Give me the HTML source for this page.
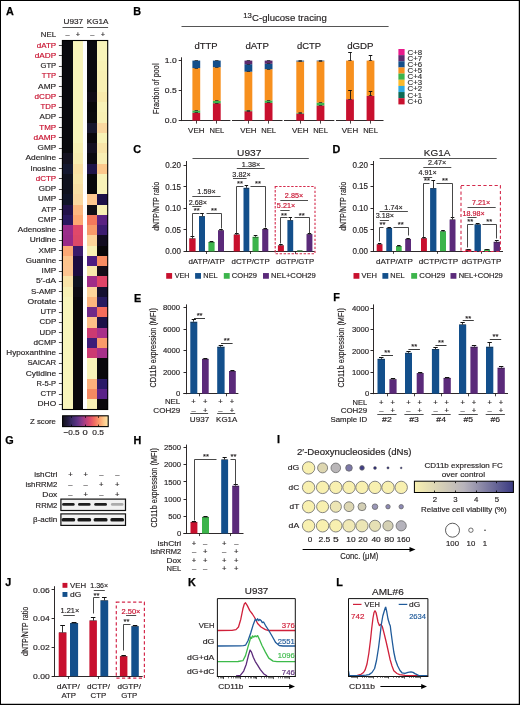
<!DOCTYPE html>
<html><head><meta charset="utf-8"><title>Figure</title>
<style>html,body{margin:0;padding:0;background:#fff;overflow:hidden;}svg{display:block;will-change:transform;}
text{font-family:"Liberation Sans",sans-serif;}</style></head>
<body><svg width="520" height="705" viewBox="0 0 520 705">
<rect x="0" y="0" width="520" height="705" fill="#fff"/>
<defs><linearGradient id="magma" x1="0" x2="1" y1="0" y2="0">
<stop offset="0" stop-color="#14121c"/><stop offset="0.1" stop-color="#221c3c"/><stop offset="0.2" stop-color="#3a2a66"/>
<stop offset="0.32" stop-color="#5e3284"/><stop offset="0.42" stop-color="#8a3a8a"/><stop offset="0.5" stop-color="#b23e7e"/>
<stop offset="0.6" stop-color="#dc4c6e"/><stop offset="0.7" stop-color="#f26e62"/><stop offset="0.8" stop-color="#fb9a6c"/>
<stop offset="0.9" stop-color="#fdc68a"/><stop offset="1" stop-color="#fde9aa"/></linearGradient>
<linearGradient id="bluey" x1="0" x2="1" y1="0" y2="0"><stop offset="0" stop-color="#f8f0b0"/><stop offset="0.5" stop-color="#b8b4bc"/><stop offset="1" stop-color="#3a3a82"/></linearGradient>
<filter id="blur1" x="-20%" y="-50%" width="140%" height="200%"><feGaussianBlur stdDeviation="0.55"/></filter>
</defs>
<text x="5.90" y="14.60" font-size="10.8" text-anchor="start" fill="#000" font-weight="bold" stroke="#000" stroke-width="0.25" >A</text>
<text x="133.20" y="15.00" font-size="10.8" text-anchor="start" fill="#000" font-weight="bold" stroke="#000" stroke-width="0.25" >B</text>
<text x="133.20" y="152.70" font-size="10.8" text-anchor="start" fill="#000" font-weight="bold" stroke="#000" stroke-width="0.25" >C</text>
<text x="332.40" y="153.00" font-size="10.8" text-anchor="start" fill="#000" font-weight="bold" stroke="#000" stroke-width="0.25" >D</text>
<text x="134.10" y="301.60" font-size="10.8" text-anchor="start" fill="#000" font-weight="bold" stroke="#000" stroke-width="0.25" >E</text>
<text x="333.20" y="301.00" font-size="10.8" text-anchor="start" fill="#000" font-weight="bold" stroke="#000" stroke-width="0.25" >F</text>
<text x="5.30" y="444.00" font-size="10.8" text-anchor="start" fill="#000" font-weight="bold" stroke="#000" stroke-width="0.25" >G</text>
<text x="133.60" y="443.90" font-size="10.8" text-anchor="start" fill="#000" font-weight="bold" stroke="#000" stroke-width="0.25" >H</text>
<text x="277.00" y="442.60" font-size="10.8" text-anchor="start" fill="#000" font-weight="bold" stroke="#000" stroke-width="0.25" >I</text>
<text x="5.30" y="585.60" font-size="10.8" text-anchor="start" fill="#000" font-weight="bold" stroke="#000" stroke-width="0.25" >J</text>
<text x="187.90" y="586.00" font-size="10.8" text-anchor="start" fill="#000" font-weight="bold" stroke="#000" stroke-width="0.25" >K</text>
<text x="336.20" y="586.00" font-size="10.8" text-anchor="start" fill="#000" font-weight="bold" stroke="#000" stroke-width="0.25" >L</text>
<rect x="62.40" y="40.50" width="10.20" height="10.25" fill="#0a0a0e" shape-rendering="crispEdges"/>
<rect x="72.60" y="40.50" width="10.60" height="10.25" fill="#f8f4ba" shape-rendering="crispEdges"/>
<rect x="87.20" y="40.50" width="10.20" height="10.25" fill="#0a0a0e" shape-rendering="crispEdges"/>
<rect x="97.40" y="40.50" width="10.40" height="10.25" fill="#f8f4ba" shape-rendering="crispEdges"/>
<text x="36.74" y="47.73" font-size="7.6" text-anchor="start" fill="#c8102e" font-weight="normal" stroke="#c8102e" stroke-width="0.16"  textLength="19.41" lengthAdjust="spacingAndGlyphs">dATP</text>
<line x1="58.90" y1="45.50" x2="62.00" y2="45.50" stroke="#231f20" stroke-width="0.8" />
<rect x="62.40" y="50.75" width="10.20" height="10.25" fill="#0a0a0e" shape-rendering="crispEdges"/>
<rect x="72.60" y="50.75" width="10.60" height="10.25" fill="#f8f4ba" shape-rendering="crispEdges"/>
<rect x="87.20" y="50.75" width="10.20" height="10.25" fill="#0a0a0e" shape-rendering="crispEdges"/>
<rect x="97.40" y="50.75" width="10.40" height="10.25" fill="#f8f4ba" shape-rendering="crispEdges"/>
<text x="34.74" y="57.98" font-size="7.6" text-anchor="start" fill="#c8102e" font-weight="normal" stroke="#c8102e" stroke-width="0.16"  textLength="21.41" lengthAdjust="spacingAndGlyphs">dADP</text>
<line x1="58.90" y1="55.50" x2="62.00" y2="55.50" stroke="#231f20" stroke-width="0.8" />
<rect x="62.40" y="61.00" width="10.20" height="10.25" fill="#0a0a0e" shape-rendering="crispEdges"/>
<rect x="72.60" y="61.00" width="10.60" height="10.25" fill="#f8f4ba" shape-rendering="crispEdges"/>
<rect x="87.20" y="61.00" width="10.20" height="10.25" fill="#0a0a0e" shape-rendering="crispEdges"/>
<rect x="97.40" y="61.00" width="10.40" height="10.25" fill="#f8f2b6" shape-rendering="crispEdges"/>
<text x="40.44" y="68.22" font-size="7.6" text-anchor="start" fill="#231f20" font-weight="normal" stroke="#231f20" stroke-width="0.16"  textLength="15.71" lengthAdjust="spacingAndGlyphs">GTP</text>
<line x1="58.90" y1="66.50" x2="62.00" y2="66.50" stroke="#231f20" stroke-width="0.8" />
<rect x="62.40" y="71.25" width="10.20" height="10.25" fill="#0a0a0e" shape-rendering="crispEdges"/>
<rect x="72.60" y="71.25" width="10.60" height="10.25" fill="#f8f4ba" shape-rendering="crispEdges"/>
<rect x="87.20" y="71.25" width="10.20" height="10.25" fill="#0a0a0e" shape-rendering="crispEdges"/>
<rect x="97.40" y="71.25" width="10.40" height="10.25" fill="#f8f0b4" shape-rendering="crispEdges"/>
<text x="41.84" y="78.47" font-size="7.6" text-anchor="start" fill="#c8102e" font-weight="normal" stroke="#c8102e" stroke-width="0.16"  textLength="14.31" lengthAdjust="spacingAndGlyphs">TTP</text>
<line x1="58.90" y1="76.50" x2="62.00" y2="76.50" stroke="#231f20" stroke-width="0.8" />
<rect x="62.40" y="81.50" width="10.20" height="10.25" fill="#0a0a0e" shape-rendering="crispEdges"/>
<rect x="72.60" y="81.50" width="10.60" height="10.25" fill="#f8f4ba" shape-rendering="crispEdges"/>
<rect x="87.20" y="81.50" width="10.20" height="10.25" fill="#0a0a0e" shape-rendering="crispEdges"/>
<rect x="97.40" y="81.50" width="10.40" height="10.25" fill="#f8f0b4" shape-rendering="crispEdges"/>
<text x="38.14" y="88.72" font-size="7.6" text-anchor="start" fill="#231f20" font-weight="normal" stroke="#231f20" stroke-width="0.16"  textLength="18.01" lengthAdjust="spacingAndGlyphs">AMP</text>
<line x1="58.90" y1="86.50" x2="62.00" y2="86.50" stroke="#231f20" stroke-width="0.8" />
<rect x="62.40" y="91.75" width="10.20" height="10.25" fill="#0a0a0e" shape-rendering="crispEdges"/>
<rect x="72.60" y="91.75" width="10.60" height="10.25" fill="#f8f4ba" shape-rendering="crispEdges"/>
<rect x="87.20" y="91.75" width="10.20" height="10.25" fill="#100c16" shape-rendering="crispEdges"/>
<rect x="97.40" y="91.75" width="10.40" height="10.25" fill="#f8eaac" shape-rendering="crispEdges"/>
<text x="34.54" y="98.97" font-size="7.6" text-anchor="start" fill="#c8102e" font-weight="normal" stroke="#c8102e" stroke-width="0.16"  textLength="21.61" lengthAdjust="spacingAndGlyphs">dCDP</text>
<line x1="58.90" y1="96.50" x2="62.00" y2="96.50" stroke="#231f20" stroke-width="0.8" />
<rect x="62.40" y="102.00" width="10.20" height="10.25" fill="#0a0a0e" shape-rendering="crispEdges"/>
<rect x="72.60" y="102.00" width="10.60" height="10.25" fill="#f8f4ba" shape-rendering="crispEdges"/>
<rect x="87.20" y="102.00" width="10.20" height="10.25" fill="#08080a" shape-rendering="crispEdges"/>
<rect x="97.40" y="102.00" width="10.40" height="10.25" fill="#f8f2b8" shape-rendering="crispEdges"/>
<text x="40.64" y="109.22" font-size="7.6" text-anchor="start" fill="#c8102e" font-weight="normal" stroke="#c8102e" stroke-width="0.16"  textLength="15.51" lengthAdjust="spacingAndGlyphs">TDP</text>
<line x1="58.90" y1="107.50" x2="62.00" y2="107.50" stroke="#231f20" stroke-width="0.8" />
<rect x="62.40" y="112.25" width="10.20" height="10.25" fill="#0a0a0e" shape-rendering="crispEdges"/>
<rect x="72.60" y="112.25" width="10.60" height="10.25" fill="#f8f4ba" shape-rendering="crispEdges"/>
<rect x="87.20" y="112.25" width="10.20" height="10.25" fill="#0a0a0c" shape-rendering="crispEdges"/>
<rect x="97.40" y="112.25" width="10.40" height="10.25" fill="#f8f0b4" shape-rendering="crispEdges"/>
<text x="39.64" y="119.47" font-size="7.6" text-anchor="start" fill="#231f20" font-weight="normal" stroke="#231f20" stroke-width="0.16"  textLength="16.51" lengthAdjust="spacingAndGlyphs">ADP</text>
<line x1="58.90" y1="117.50" x2="62.00" y2="117.50" stroke="#231f20" stroke-width="0.8" />
<rect x="62.40" y="122.50" width="10.20" height="10.25" fill="#0a0a0e" shape-rendering="crispEdges"/>
<rect x="72.60" y="122.50" width="10.60" height="10.25" fill="#f8f4ba" shape-rendering="crispEdges"/>
<rect x="87.20" y="122.50" width="10.20" height="10.25" fill="#17172c" shape-rendering="crispEdges"/>
<rect x="97.40" y="122.50" width="10.40" height="10.25" fill="#fad8a0" shape-rendering="crispEdges"/>
<text x="39.24" y="129.72" font-size="7.6" text-anchor="start" fill="#c8102e" font-weight="normal" stroke="#c8102e" stroke-width="0.16"  textLength="16.91" lengthAdjust="spacingAndGlyphs">TMP</text>
<line x1="58.90" y1="127.50" x2="62.00" y2="127.50" stroke="#231f20" stroke-width="0.8" />
<rect x="62.40" y="132.75" width="10.20" height="10.25" fill="#0a0a0e" shape-rendering="crispEdges"/>
<rect x="72.60" y="132.75" width="10.60" height="10.25" fill="#f8f4ba" shape-rendering="crispEdges"/>
<rect x="87.20" y="132.75" width="10.20" height="10.25" fill="#0a080c" shape-rendering="crispEdges"/>
<rect x="97.40" y="132.75" width="10.40" height="10.25" fill="#f8f2b6" shape-rendering="crispEdges"/>
<text x="33.54" y="139.97" font-size="7.6" text-anchor="start" fill="#c8102e" font-weight="normal" stroke="#c8102e" stroke-width="0.16"  textLength="22.61" lengthAdjust="spacingAndGlyphs">dAMP</text>
<line x1="58.90" y1="137.50" x2="62.00" y2="137.50" stroke="#231f20" stroke-width="0.8" />
<rect x="62.40" y="143.00" width="10.20" height="10.25" fill="#0a0a0e" shape-rendering="crispEdges"/>
<rect x="72.60" y="143.00" width="10.60" height="10.25" fill="#f8f0b4" shape-rendering="crispEdges"/>
<rect x="87.20" y="143.00" width="10.20" height="10.25" fill="#141020" shape-rendering="crispEdges"/>
<rect x="97.40" y="143.00" width="10.40" height="10.25" fill="#f8e4a8" shape-rendering="crispEdges"/>
<text x="37.54" y="150.22" font-size="7.6" text-anchor="start" fill="#231f20" font-weight="normal" stroke="#231f20" stroke-width="0.16"  textLength="18.61" lengthAdjust="spacingAndGlyphs">GMP</text>
<line x1="58.90" y1="148.50" x2="62.00" y2="148.50" stroke="#231f20" stroke-width="0.8" />
<rect x="62.40" y="153.25" width="10.20" height="10.25" fill="#141220" shape-rendering="crispEdges"/>
<rect x="72.60" y="153.25" width="10.60" height="10.25" fill="#f8ecb0" shape-rendering="crispEdges"/>
<rect x="87.20" y="153.25" width="10.20" height="10.25" fill="#0c0a10" shape-rendering="crispEdges"/>
<rect x="97.40" y="153.25" width="10.40" height="10.25" fill="#f8eeb4" shape-rendering="crispEdges"/>
<text x="25.54" y="160.47" font-size="7.6" text-anchor="start" fill="#231f20" font-weight="normal" stroke="#231f20" stroke-width="0.16"  textLength="30.61" lengthAdjust="spacingAndGlyphs">Adenine</text>
<line x1="58.90" y1="158.50" x2="62.00" y2="158.50" stroke="#231f20" stroke-width="0.8" />
<rect x="62.40" y="163.50" width="10.20" height="10.25" fill="#141830" shape-rendering="crispEdges"/>
<rect x="72.60" y="163.50" width="10.60" height="10.25" fill="#fae0a4" shape-rendering="crispEdges"/>
<rect x="87.20" y="163.50" width="10.20" height="10.25" fill="#1e1448" shape-rendering="crispEdges"/>
<rect x="97.40" y="163.50" width="10.40" height="10.25" fill="#fcc88c" shape-rendering="crispEdges"/>
<text x="30.44" y="170.72" font-size="7.6" text-anchor="start" fill="#231f20" font-weight="normal" stroke="#231f20" stroke-width="0.16"  textLength="25.71" lengthAdjust="spacingAndGlyphs">Inosine</text>
<line x1="58.90" y1="168.50" x2="62.00" y2="168.50" stroke="#231f20" stroke-width="0.8" />
<rect x="62.40" y="173.75" width="10.20" height="10.25" fill="#10121e" shape-rendering="crispEdges"/>
<rect x="72.60" y="173.75" width="10.60" height="10.25" fill="#f8e4a8" shape-rendering="crispEdges"/>
<rect x="87.20" y="173.75" width="10.20" height="10.25" fill="#08080a" shape-rendering="crispEdges"/>
<rect x="97.40" y="173.75" width="10.40" height="10.25" fill="#f8f2b8" shape-rendering="crispEdges"/>
<text x="35.74" y="180.97" font-size="7.6" text-anchor="start" fill="#c8102e" font-weight="normal" stroke="#c8102e" stroke-width="0.16"  textLength="20.41" lengthAdjust="spacingAndGlyphs">dCTP</text>
<line x1="58.90" y1="178.50" x2="62.00" y2="178.50" stroke="#231f20" stroke-width="0.8" />
<rect x="62.40" y="184.00" width="10.20" height="10.25" fill="#10121e" shape-rendering="crispEdges"/>
<rect x="72.60" y="184.00" width="10.60" height="10.25" fill="#f8dea4" shape-rendering="crispEdges"/>
<rect x="87.20" y="184.00" width="10.20" height="10.25" fill="#08080a" shape-rendering="crispEdges"/>
<rect x="97.40" y="184.00" width="10.40" height="10.25" fill="#f8f2b8" shape-rendering="crispEdges"/>
<text x="38.84" y="191.22" font-size="7.6" text-anchor="start" fill="#231f20" font-weight="normal" stroke="#231f20" stroke-width="0.16"  textLength="17.31" lengthAdjust="spacingAndGlyphs">GDP</text>
<line x1="58.90" y1="189.50" x2="62.00" y2="189.50" stroke="#231f20" stroke-width="0.8" />
<rect x="62.40" y="194.25" width="10.20" height="10.25" fill="#101428" shape-rendering="crispEdges"/>
<rect x="72.60" y="194.25" width="10.60" height="10.25" fill="#fad8a0" shape-rendering="crispEdges"/>
<rect x="87.20" y="194.25" width="10.20" height="10.25" fill="#fdc890" shape-rendering="crispEdges"/>
<rect x="97.40" y="194.25" width="10.40" height="10.25" fill="#1c1048" shape-rendering="crispEdges"/>
<text x="38.14" y="201.47" font-size="7.6" text-anchor="start" fill="#231f20" font-weight="normal" stroke="#231f20" stroke-width="0.16"  textLength="18.01" lengthAdjust="spacingAndGlyphs">UMP</text>
<line x1="58.90" y1="199.50" x2="62.00" y2="199.50" stroke="#231f20" stroke-width="0.8" />
<rect x="62.40" y="204.50" width="10.20" height="10.25" fill="#22124a" shape-rendering="crispEdges"/>
<rect x="72.60" y="204.50" width="10.60" height="10.25" fill="#fcb880" shape-rendering="crispEdges"/>
<rect x="87.20" y="204.50" width="10.20" height="10.25" fill="#121016" shape-rendering="crispEdges"/>
<rect x="97.40" y="204.50" width="10.40" height="10.25" fill="#f8f0b4" shape-rendering="crispEdges"/>
<text x="41.64" y="211.72" font-size="7.6" text-anchor="start" fill="#231f20" font-weight="normal" stroke="#231f20" stroke-width="0.16"  textLength="14.51" lengthAdjust="spacingAndGlyphs">ATP</text>
<line x1="58.90" y1="209.50" x2="62.00" y2="209.50" stroke="#231f20" stroke-width="0.8" />
<rect x="62.40" y="214.75" width="10.20" height="10.25" fill="#2a1860" shape-rendering="crispEdges"/>
<rect x="72.60" y="214.75" width="10.60" height="10.25" fill="#fda872" shape-rendering="crispEdges"/>
<rect x="87.20" y="214.75" width="10.20" height="10.25" fill="#f4785c" shape-rendering="crispEdges"/>
<rect x="97.40" y="214.75" width="10.40" height="10.25" fill="#5a2282" shape-rendering="crispEdges"/>
<text x="37.84" y="221.97" font-size="7.6" text-anchor="start" fill="#231f20" font-weight="normal" stroke="#231f20" stroke-width="0.16"  textLength="18.31" lengthAdjust="spacingAndGlyphs">CMP</text>
<line x1="58.90" y1="219.50" x2="62.00" y2="219.50" stroke="#231f20" stroke-width="0.8" />
<rect x="62.40" y="225.00" width="10.20" height="10.25" fill="#9a2c8a" shape-rendering="crispEdges"/>
<rect x="72.60" y="225.00" width="10.60" height="10.25" fill="#e0486a" shape-rendering="crispEdges"/>
<rect x="87.20" y="225.00" width="10.20" height="10.25" fill="#f89a6a" shape-rendering="crispEdges"/>
<rect x="97.40" y="225.00" width="10.40" height="10.25" fill="#3c1c70" shape-rendering="crispEdges"/>
<text x="17.74" y="232.22" font-size="7.6" text-anchor="start" fill="#231f20" font-weight="normal" stroke="#231f20" stroke-width="0.16"  textLength="38.41" lengthAdjust="spacingAndGlyphs">Adenosine</text>
<line x1="58.90" y1="230.50" x2="62.00" y2="230.50" stroke="#231f20" stroke-width="0.8" />
<rect x="62.40" y="235.25" width="10.20" height="10.25" fill="#982a88" shape-rendering="crispEdges"/>
<rect x="72.60" y="235.25" width="10.60" height="10.25" fill="#dc4868" shape-rendering="crispEdges"/>
<rect x="87.20" y="235.25" width="10.20" height="10.25" fill="#fdd49a" shape-rendering="crispEdges"/>
<rect x="97.40" y="235.25" width="10.40" height="10.25" fill="#120c20" shape-rendering="crispEdges"/>
<text x="29.74" y="242.47" font-size="7.6" text-anchor="start" fill="#231f20" font-weight="normal" stroke="#231f20" stroke-width="0.16"  textLength="26.41" lengthAdjust="spacingAndGlyphs">Uridine</text>
<line x1="58.90" y1="240.50" x2="62.00" y2="240.50" stroke="#231f20" stroke-width="0.8" />
<rect x="62.40" y="245.50" width="10.20" height="10.25" fill="#fca874" shape-rendering="crispEdges"/>
<rect x="72.60" y="245.50" width="10.60" height="10.25" fill="#3a1a6a" shape-rendering="crispEdges"/>
<rect x="87.20" y="245.50" width="10.20" height="10.25" fill="#f8f0b4" shape-rendering="crispEdges"/>
<rect x="97.40" y="245.50" width="10.40" height="10.25" fill="#080608" shape-rendering="crispEdges"/>
<text x="38.54" y="252.72" font-size="7.6" text-anchor="start" fill="#231f20" font-weight="normal" stroke="#231f20" stroke-width="0.16"  textLength="17.61" lengthAdjust="spacingAndGlyphs">XMP</text>
<line x1="58.90" y1="250.50" x2="62.00" y2="250.50" stroke="#231f20" stroke-width="0.8" />
<rect x="62.40" y="255.75" width="10.20" height="10.25" fill="#fdc48c" shape-rendering="crispEdges"/>
<rect x="72.60" y="255.75" width="10.60" height="10.25" fill="#1c0c40" shape-rendering="crispEdges"/>
<rect x="87.20" y="255.75" width="10.20" height="10.25" fill="#4c1c80" shape-rendering="crispEdges"/>
<rect x="97.40" y="255.75" width="10.40" height="10.25" fill="#f88c62" shape-rendering="crispEdges"/>
<text x="25.74" y="262.98" font-size="7.6" text-anchor="start" fill="#231f20" font-weight="normal" stroke="#231f20" stroke-width="0.16"  textLength="30.41" lengthAdjust="spacingAndGlyphs">Guanine</text>
<line x1="58.90" y1="260.50" x2="62.00" y2="260.50" stroke="#231f20" stroke-width="0.8" />
<rect x="62.40" y="266.00" width="10.20" height="10.25" fill="#fdc490" shape-rendering="crispEdges"/>
<rect x="72.60" y="266.00" width="10.60" height="10.25" fill="#1c0c40" shape-rendering="crispEdges"/>
<rect x="87.20" y="266.00" width="10.20" height="10.25" fill="#f8e8ac" shape-rendering="crispEdges"/>
<rect x="97.40" y="266.00" width="10.40" height="10.25" fill="#140c18" shape-rendering="crispEdges"/>
<text x="41.64" y="273.23" font-size="7.6" text-anchor="start" fill="#231f20" font-weight="normal" stroke="#231f20" stroke-width="0.16"  textLength="14.51" lengthAdjust="spacingAndGlyphs">IMP</text>
<line x1="58.90" y1="271.50" x2="62.00" y2="271.50" stroke="#231f20" stroke-width="0.8" />
<rect x="62.40" y="276.25" width="10.20" height="10.25" fill="#fae4a8" shape-rendering="crispEdges"/>
<rect x="72.60" y="276.25" width="10.60" height="10.25" fill="#101420" shape-rendering="crispEdges"/>
<rect x="87.20" y="276.25" width="10.20" height="10.25" fill="#a02c88" shape-rendering="crispEdges"/>
<rect x="97.40" y="276.25" width="10.40" height="10.25" fill="#e04468" shape-rendering="crispEdges"/>
<text x="36.14" y="283.48" font-size="7.6" text-anchor="start" fill="#231f20" font-weight="normal" stroke="#231f20" stroke-width="0.16"  textLength="20.01" lengthAdjust="spacingAndGlyphs">5&#8242;-dA</text>
<line x1="58.90" y1="281.50" x2="62.00" y2="281.50" stroke="#231f20" stroke-width="0.8" />
<rect x="62.40" y="286.50" width="10.20" height="10.25" fill="#f8f0b4" shape-rendering="crispEdges"/>
<rect x="72.60" y="286.50" width="10.60" height="10.25" fill="#0e0c14" shape-rendering="crispEdges"/>
<rect x="87.20" y="286.50" width="10.20" height="10.25" fill="#fdd49c" shape-rendering="crispEdges"/>
<rect x="97.40" y="286.50" width="10.40" height="10.25" fill="#141030" shape-rendering="crispEdges"/>
<text x="31.04" y="293.73" font-size="7.6" text-anchor="start" fill="#231f20" font-weight="normal" stroke="#231f20" stroke-width="0.16"  textLength="25.11" lengthAdjust="spacingAndGlyphs">S-AMP</text>
<line x1="58.90" y1="291.50" x2="62.00" y2="291.50" stroke="#231f20" stroke-width="0.8" />
<rect x="62.40" y="296.75" width="10.20" height="10.25" fill="#f8f4ba" shape-rendering="crispEdges"/>
<rect x="72.60" y="296.75" width="10.60" height="10.25" fill="#0a080c" shape-rendering="crispEdges"/>
<rect x="87.20" y="296.75" width="10.20" height="10.25" fill="#fcb47e" shape-rendering="crispEdges"/>
<rect x="97.40" y="296.75" width="10.40" height="10.25" fill="#261a60" shape-rendering="crispEdges"/>
<text x="27.64" y="303.98" font-size="7.6" text-anchor="start" fill="#231f20" font-weight="normal" stroke="#231f20" stroke-width="0.16"  textLength="28.51" lengthAdjust="spacingAndGlyphs">Orotate</text>
<line x1="58.90" y1="301.50" x2="62.00" y2="301.50" stroke="#231f20" stroke-width="0.8" />
<rect x="62.40" y="307.00" width="10.20" height="10.25" fill="#f8f4ba" shape-rendering="crispEdges"/>
<rect x="72.60" y="307.00" width="10.60" height="10.25" fill="#0a080c" shape-rendering="crispEdges"/>
<rect x="87.20" y="307.00" width="10.20" height="10.25" fill="#702888" shape-rendering="crispEdges"/>
<rect x="97.40" y="307.00" width="10.40" height="10.25" fill="#f46c5c" shape-rendering="crispEdges"/>
<text x="40.64" y="314.23" font-size="7.6" text-anchor="start" fill="#231f20" font-weight="normal" stroke="#231f20" stroke-width="0.16"  textLength="15.51" lengthAdjust="spacingAndGlyphs">UTP</text>
<line x1="58.90" y1="312.50" x2="62.00" y2="312.50" stroke="#231f20" stroke-width="0.8" />
<rect x="62.40" y="317.25" width="10.20" height="10.25" fill="#f8f4ba" shape-rendering="crispEdges"/>
<rect x="72.60" y="317.25" width="10.60" height="10.25" fill="#0a080c" shape-rendering="crispEdges"/>
<rect x="87.20" y="317.25" width="10.20" height="10.25" fill="#fdc088" shape-rendering="crispEdges"/>
<rect x="97.40" y="317.25" width="10.40" height="10.25" fill="#1c1048" shape-rendering="crispEdges"/>
<text x="39.54" y="324.48" font-size="7.6" text-anchor="start" fill="#231f20" font-weight="normal" stroke="#231f20" stroke-width="0.16"  textLength="16.61" lengthAdjust="spacingAndGlyphs">CDP</text>
<line x1="58.90" y1="322.50" x2="62.00" y2="322.50" stroke="#231f20" stroke-width="0.8" />
<rect x="62.40" y="327.50" width="10.20" height="10.25" fill="#f8f4ba" shape-rendering="crispEdges"/>
<rect x="72.60" y="327.50" width="10.60" height="10.25" fill="#0a080c" shape-rendering="crispEdges"/>
<rect x="87.20" y="327.50" width="10.20" height="10.25" fill="#cc3a72" shape-rendering="crispEdges"/>
<rect x="97.40" y="327.50" width="10.40" height="10.25" fill="#a8308a" shape-rendering="crispEdges"/>
<text x="39.54" y="334.73" font-size="7.6" text-anchor="start" fill="#231f20" font-weight="normal" stroke="#231f20" stroke-width="0.16"  textLength="16.61" lengthAdjust="spacingAndGlyphs">UDP</text>
<line x1="58.90" y1="332.50" x2="62.00" y2="332.50" stroke="#231f20" stroke-width="0.8" />
<rect x="62.40" y="337.75" width="10.20" height="10.25" fill="#f8f4ba" shape-rendering="crispEdges"/>
<rect x="72.60" y="337.75" width="10.60" height="10.25" fill="#0a080c" shape-rendering="crispEdges"/>
<rect x="87.20" y="337.75" width="10.20" height="10.25" fill="#3c1c78" shape-rendering="crispEdges"/>
<rect x="97.40" y="337.75" width="10.40" height="10.25" fill="#fa9a6a" shape-rendering="crispEdges"/>
<text x="33.54" y="344.98" font-size="7.6" text-anchor="start" fill="#231f20" font-weight="normal" stroke="#231f20" stroke-width="0.16"  textLength="22.61" lengthAdjust="spacingAndGlyphs">dCMP</text>
<line x1="58.90" y1="342.50" x2="62.00" y2="342.50" stroke="#231f20" stroke-width="0.8" />
<rect x="62.40" y="348.00" width="10.20" height="10.25" fill="#f8f4ba" shape-rendering="crispEdges"/>
<rect x="72.60" y="348.00" width="10.60" height="10.25" fill="#0a080c" shape-rendering="crispEdges"/>
<rect x="87.20" y="348.00" width="10.20" height="10.25" fill="#cc3a72" shape-rendering="crispEdges"/>
<rect x="97.40" y="348.00" width="10.40" height="10.25" fill="#a8308a" shape-rendering="crispEdges"/>
<text x="6.34" y="355.23" font-size="7.6" text-anchor="start" fill="#231f20" font-weight="normal" stroke="#231f20" stroke-width="0.16"  textLength="49.81" lengthAdjust="spacingAndGlyphs">Hypoxanthine</text>
<line x1="58.90" y1="353.50" x2="62.00" y2="353.50" stroke="#231f20" stroke-width="0.8" />
<rect x="62.40" y="358.25" width="10.20" height="10.25" fill="#f8f4ba" shape-rendering="crispEdges"/>
<rect x="72.60" y="358.25" width="10.60" height="10.25" fill="#0a080c" shape-rendering="crispEdges"/>
<rect x="87.20" y="358.25" width="10.20" height="10.25" fill="#f8f2b8" shape-rendering="crispEdges"/>
<rect x="97.40" y="358.25" width="10.40" height="10.25" fill="#0a080c" shape-rendering="crispEdges"/>
<text x="27.44" y="365.48" font-size="7.6" text-anchor="start" fill="#231f20" font-weight="normal" stroke="#231f20" stroke-width="0.16"  textLength="28.71" lengthAdjust="spacingAndGlyphs">SAICAR</text>
<line x1="58.90" y1="363.50" x2="62.00" y2="363.50" stroke="#231f20" stroke-width="0.8" />
<rect x="62.40" y="368.50" width="10.20" height="10.25" fill="#f8f4ba" shape-rendering="crispEdges"/>
<rect x="72.60" y="368.50" width="10.60" height="10.25" fill="#0a080c" shape-rendering="crispEdges"/>
<rect x="87.20" y="368.50" width="10.20" height="10.25" fill="#f8f2b8" shape-rendering="crispEdges"/>
<rect x="97.40" y="368.50" width="10.40" height="10.25" fill="#0a080c" shape-rendering="crispEdges"/>
<text x="25.74" y="375.73" font-size="7.6" text-anchor="start" fill="#231f20" font-weight="normal" stroke="#231f20" stroke-width="0.16"  textLength="30.41" lengthAdjust="spacingAndGlyphs">Cytidine</text>
<line x1="58.90" y1="373.50" x2="62.00" y2="373.50" stroke="#231f20" stroke-width="0.8" />
<rect x="62.40" y="378.75" width="10.20" height="10.25" fill="#f8f4ba" shape-rendering="crispEdges"/>
<rect x="72.60" y="378.75" width="10.60" height="10.25" fill="#0a080c" shape-rendering="crispEdges"/>
<rect x="87.20" y="378.75" width="10.20" height="10.25" fill="#fbb07c" shape-rendering="crispEdges"/>
<rect x="97.40" y="378.75" width="10.40" height="10.25" fill="#2a1a68" shape-rendering="crispEdges"/>
<text x="36.44" y="385.98" font-size="7.6" text-anchor="start" fill="#231f20" font-weight="normal" stroke="#231f20" stroke-width="0.16"  textLength="19.71" lengthAdjust="spacingAndGlyphs">R-5-P</text>
<line x1="58.90" y1="383.50" x2="62.00" y2="383.50" stroke="#231f20" stroke-width="0.8" />
<rect x="62.40" y="389.00" width="10.20" height="10.25" fill="#f8f4ba" shape-rendering="crispEdges"/>
<rect x="72.60" y="389.00" width="10.60" height="10.25" fill="#0a080c" shape-rendering="crispEdges"/>
<rect x="87.20" y="389.00" width="10.20" height="10.25" fill="#f58a62" shape-rendering="crispEdges"/>
<rect x="97.40" y="389.00" width="10.40" height="10.25" fill="#5a2288" shape-rendering="crispEdges"/>
<text x="40.64" y="396.23" font-size="7.6" text-anchor="start" fill="#231f20" font-weight="normal" stroke="#231f20" stroke-width="0.16"  textLength="15.51" lengthAdjust="spacingAndGlyphs">CTP</text>
<line x1="58.90" y1="394.50" x2="62.00" y2="394.50" stroke="#231f20" stroke-width="0.8" />
<rect x="62.40" y="399.25" width="10.20" height="10.25" fill="#f8f4ba" shape-rendering="crispEdges"/>
<rect x="72.60" y="399.25" width="10.60" height="10.25" fill="#0a080c" shape-rendering="crispEdges"/>
<rect x="87.20" y="399.25" width="10.20" height="10.25" fill="#f8f0b4" shape-rendering="crispEdges"/>
<rect x="97.40" y="399.25" width="10.40" height="10.25" fill="#0a080c" shape-rendering="crispEdges"/>
<text x="37.54" y="406.48" font-size="7.6" text-anchor="start" fill="#231f20" font-weight="normal" stroke="#231f20" stroke-width="0.16"  textLength="18.61" lengthAdjust="spacingAndGlyphs">DHO</text>
<line x1="58.90" y1="404.50" x2="62.00" y2="404.50" stroke="#231f20" stroke-width="0.8" />
<rect x="62.4" y="40.5" width="45.3" height="369.0" fill="none" stroke="#000" stroke-width="1.1"/>
<text x="63.54" y="23.60" font-size="7.7" text-anchor="start" fill="#231f20" font-weight="normal" stroke="#231f20" stroke-width="0.16"  textLength="19.62" lengthAdjust="spacingAndGlyphs">U937</text>
<text x="86.84" y="23.60" font-size="7.7" text-anchor="start" fill="#231f20" font-weight="normal" stroke="#231f20" stroke-width="0.16"  textLength="21.72" lengthAdjust="spacingAndGlyphs">KG1A</text>
<line x1="62.50" y1="27.50" x2="83.30" y2="27.50" stroke="#555" stroke-width="1.0" />
<line x1="87.10" y1="27.50" x2="108.10" y2="27.50" stroke="#555" stroke-width="1.0" />
<text x="40.86" y="37.40" font-size="7.4" text-anchor="start" fill="#231f20" font-weight="normal" stroke="#231f20" stroke-width="0.16"  textLength="15.19" lengthAdjust="spacingAndGlyphs">NEL</text>
<text x="67.50" y="37.40" font-size="7.4" text-anchor="middle" fill="#231f20" font-weight="normal" stroke="#231f20" stroke-width="0.16"  textLength="4.12" lengthAdjust="spacingAndGlyphs">&#8211;</text>
<text x="77.90" y="37.40" font-size="7.4" text-anchor="middle" fill="#231f20" font-weight="normal" stroke="#231f20" stroke-width="0.16"  textLength="4.32" lengthAdjust="spacingAndGlyphs">+</text>
<text x="92.40" y="37.40" font-size="7.4" text-anchor="middle" fill="#231f20" font-weight="normal" stroke="#231f20" stroke-width="0.16"  textLength="4.12" lengthAdjust="spacingAndGlyphs">&#8211;</text>
<text x="102.80" y="37.40" font-size="7.4" text-anchor="middle" fill="#231f20" font-weight="normal" stroke="#231f20" stroke-width="0.16"  textLength="4.32" lengthAdjust="spacingAndGlyphs">+</text>
<rect x="62.6" y="415.8" width="45.6" height="10.8" fill="url(#magma)" stroke="#000" stroke-width="1.1"/>
<line x1="71.50" y1="416.30" x2="71.50" y2="417.80" stroke="#000" stroke-width="0.8" />
<line x1="71.50" y1="424.60" x2="71.50" y2="426.10" stroke="#000" stroke-width="0.8" />
<line x1="85.50" y1="416.30" x2="85.50" y2="417.80" stroke="#000" stroke-width="0.8" />
<line x1="85.50" y1="424.60" x2="85.50" y2="426.10" stroke="#000" stroke-width="0.8" />
<line x1="98.50" y1="416.30" x2="98.50" y2="417.80" stroke="#000" stroke-width="0.8" />
<line x1="98.50" y1="424.60" x2="98.50" y2="426.10" stroke="#000" stroke-width="0.8" />
<text x="63.53" y="435.20" font-size="7.8" text-anchor="start" fill="#231f20" font-weight="normal" stroke="#231f20" stroke-width="0.16"  textLength="16.14" lengthAdjust="spacingAndGlyphs">&#8722;0.5</text>
<text x="82.53" y="435.20" font-size="7.8" text-anchor="start" fill="#231f20" font-weight="normal" stroke="#231f20" stroke-width="0.16"  textLength="5.24" lengthAdjust="spacingAndGlyphs">0</text>
<text x="92.33" y="435.20" font-size="7.8" text-anchor="start" fill="#231f20" font-weight="normal" stroke="#231f20" stroke-width="0.16"  textLength="11.64" lengthAdjust="spacingAndGlyphs">0.5</text>
<text x="30.06" y="423.80" font-size="7.3" text-anchor="start" fill="#231f20" font-weight="normal" stroke="#231f20" stroke-width="0.16"  textLength="25.88" lengthAdjust="spacingAndGlyphs">Z score</text>
<text x="243.30" y="18.00" font-size="6.6" text-anchor="start" fill="#231f20" font-weight="normal" stroke="#231f20" stroke-width="0.16"  textLength="8.60" lengthAdjust="spacingAndGlyphs">13</text>
<text x="252.04" y="21.30" font-size="9.4" text-anchor="start" fill="#231f20" font-weight="normal" stroke="#231f20" stroke-width="0.16"  textLength="74.73" lengthAdjust="spacingAndGlyphs">C-glucose tracing</text>
<line x1="181.50" y1="26.50" x2="388.60" y2="26.50" stroke="#555" stroke-width="1.0" />
<text x="194.46" y="49.00" font-size="9.0" text-anchor="start" fill="#231f20" font-weight="normal" stroke="#231f20" stroke-width="0.16"  textLength="23.08" lengthAdjust="spacingAndGlyphs">dTTP</text>
<text x="245.46" y="49.00" font-size="9.0" text-anchor="start" fill="#231f20" font-weight="normal" stroke="#231f20" stroke-width="0.16"  textLength="23.38" lengthAdjust="spacingAndGlyphs">dATP</text>
<text x="296.96" y="49.00" font-size="9.0" text-anchor="start" fill="#231f20" font-weight="normal" stroke="#231f20" stroke-width="0.16"  textLength="24.18" lengthAdjust="spacingAndGlyphs">dCTP</text>
<text x="347.16" y="49.00" font-size="9.0" text-anchor="start" fill="#231f20" font-weight="normal" stroke="#231f20" stroke-width="0.16"  textLength="26.38" lengthAdjust="spacingAndGlyphs">dGDP</text>
<line x1="181.50" y1="57.30" x2="181.50" y2="121.05" stroke="#231f20" stroke-width="0.95" />
<line x1="178.70" y1="60.50" x2="181.70" y2="60.50" stroke="#231f20" stroke-width="0.95" />
<text x="164.75" y="63.20" font-size="7.5" text-anchor="start" fill="#231f20" font-weight="normal" stroke="#231f20" stroke-width="0.16"  textLength="11.90" lengthAdjust="spacingAndGlyphs">1.0</text>
<line x1="178.70" y1="90.50" x2="181.70" y2="90.50" stroke="#231f20" stroke-width="0.95" />
<text x="164.75" y="93.20" font-size="7.5" text-anchor="start" fill="#231f20" font-weight="normal" stroke="#231f20" stroke-width="0.16"  textLength="11.90" lengthAdjust="spacingAndGlyphs">0.5</text>
<line x1="178.70" y1="120.50" x2="181.70" y2="120.50" stroke="#231f20" stroke-width="0.95" />
<text x="164.75" y="123.20" font-size="7.5" text-anchor="start" fill="#231f20" font-weight="normal" stroke="#231f20" stroke-width="0.16"  textLength="11.90" lengthAdjust="spacingAndGlyphs">0.0</text>
<text x="158.60" y="88.70" font-size="9.0" text-anchor="middle" fill="#231f20" font-weight="normal" stroke="#231f20" stroke-width="0.16" transform="rotate(-90 158.60 88.70)" textLength="50.60" lengthAdjust="spacingAndGlyphs">Fraction of pool</text>
<line x1="181.70" y1="120.50" x2="230.40" y2="120.50" stroke="#231f20" stroke-width="0.95" />
<line x1="232.00" y1="120.50" x2="282.50" y2="120.50" stroke="#231f20" stroke-width="0.95" />
<line x1="284.00" y1="120.50" x2="334.30" y2="120.50" stroke="#231f20" stroke-width="0.95" />
<line x1="336.00" y1="120.50" x2="383.50" y2="120.50" stroke="#231f20" stroke-width="0.95" />
<rect x="192.40" y="112.80" width="7.80" height="7.80" fill="#c8102e" />
<rect x="192.40" y="110.40" width="7.80" height="2.40" fill="#3cb44b" />
<rect x="192.40" y="68.10" width="7.80" height="42.30" fill="#f7901e" />
<rect x="192.40" y="60.60" width="7.80" height="7.50" fill="#134e8a" />
<line x1="194.60" y1="112.50" x2="198.00" y2="112.50" stroke="#222" stroke-width="0.75" />
<line x1="194.60" y1="110.50" x2="198.00" y2="110.50" stroke="#222" stroke-width="0.75" />
<line x1="194.60" y1="68.50" x2="198.00" y2="68.50" stroke="#222" stroke-width="0.75" />
<line x1="194.60" y1="60.50" x2="198.00" y2="60.50" stroke="#222" stroke-width="0.75" />
<line x1="196.50" y1="120.60" x2="196.50" y2="123.60" stroke="#231f20" stroke-width="0.85" />
<text x="188.12" y="132.60" font-size="8.0" text-anchor="start" fill="#231f20" font-weight="normal" stroke="#231f20" stroke-width="0.16"  textLength="16.36" lengthAdjust="spacingAndGlyphs">VEH</text>
<rect x="212.90" y="103.20" width="7.80" height="17.40" fill="#c8102e" />
<rect x="212.90" y="100.80" width="7.80" height="2.40" fill="#3cb44b" />
<rect x="212.90" y="67.20" width="7.80" height="33.60" fill="#f7901e" />
<rect x="212.90" y="60.60" width="7.80" height="6.60" fill="#134e8a" />
<line x1="215.10" y1="103.50" x2="218.50" y2="103.50" stroke="#222" stroke-width="0.75" />
<line x1="215.10" y1="100.50" x2="218.50" y2="100.50" stroke="#222" stroke-width="0.75" />
<line x1="215.10" y1="67.50" x2="218.50" y2="67.50" stroke="#222" stroke-width="0.75" />
<line x1="215.10" y1="60.50" x2="218.50" y2="60.50" stroke="#222" stroke-width="0.75" />
<line x1="216.50" y1="120.60" x2="216.50" y2="123.60" stroke="#231f20" stroke-width="0.85" />
<text x="209.47" y="132.60" font-size="8.0" text-anchor="start" fill="#231f20" font-weight="normal" stroke="#231f20" stroke-width="0.16"  textLength="14.66" lengthAdjust="spacingAndGlyphs">NEL</text>
<rect x="244.50" y="111.18" width="7.80" height="9.42" fill="#c8102e" />
<rect x="244.50" y="110.28" width="7.80" height="0.90" fill="#3cb44b" />
<rect x="244.50" y="71.70" width="7.80" height="38.58" fill="#f7901e" />
<rect x="244.50" y="64.20" width="7.80" height="7.50" fill="#134e8a" />
<rect x="244.50" y="60.60" width="7.80" height="3.60" fill="#5b2a6e" />
<line x1="246.70" y1="111.50" x2="250.10" y2="111.50" stroke="#222" stroke-width="0.75" />
<line x1="246.70" y1="110.50" x2="250.10" y2="110.50" stroke="#222" stroke-width="0.75" />
<line x1="246.70" y1="71.50" x2="250.10" y2="71.50" stroke="#222" stroke-width="0.75" />
<line x1="246.70" y1="64.50" x2="250.10" y2="64.50" stroke="#222" stroke-width="0.75" />
<line x1="246.70" y1="60.50" x2="250.10" y2="60.50" stroke="#222" stroke-width="0.75" />
<line x1="248.50" y1="120.60" x2="248.50" y2="123.60" stroke="#231f20" stroke-width="0.85" />
<text x="240.22" y="132.60" font-size="8.0" text-anchor="start" fill="#231f20" font-weight="normal" stroke="#231f20" stroke-width="0.16"  textLength="16.36" lengthAdjust="spacingAndGlyphs">VEH</text>
<rect x="264.70" y="102.90" width="7.80" height="17.70" fill="#c8102e" />
<rect x="264.70" y="100.38" width="7.80" height="2.52" fill="#3cb44b" />
<rect x="264.70" y="69.18" width="7.80" height="31.20" fill="#f7901e" />
<rect x="264.70" y="63.78" width="7.80" height="5.40" fill="#134e8a" />
<rect x="264.70" y="60.60" width="7.80" height="3.18" fill="#5b2a6e" />
<line x1="266.90" y1="102.50" x2="270.30" y2="102.50" stroke="#222" stroke-width="0.75" />
<line x1="266.90" y1="100.50" x2="270.30" y2="100.50" stroke="#222" stroke-width="0.75" />
<line x1="266.90" y1="69.50" x2="270.30" y2="69.50" stroke="#222" stroke-width="0.75" />
<line x1="266.90" y1="63.50" x2="270.30" y2="63.50" stroke="#222" stroke-width="0.75" />
<line x1="266.90" y1="60.50" x2="270.30" y2="60.50" stroke="#222" stroke-width="0.75" />
<line x1="268.50" y1="120.60" x2="268.50" y2="123.60" stroke="#231f20" stroke-width="0.85" />
<text x="261.27" y="132.60" font-size="8.0" text-anchor="start" fill="#231f20" font-weight="normal" stroke="#231f20" stroke-width="0.16"  textLength="14.66" lengthAdjust="spacingAndGlyphs">NEL</text>
<rect x="296.30" y="113.52" width="7.80" height="7.08" fill="#c8102e" />
<rect x="296.30" y="112.80" width="7.80" height="0.72" fill="#3cb44b" />
<rect x="296.30" y="61.50" width="7.80" height="51.30" fill="#f7901e" />
<rect x="296.30" y="60.60" width="7.80" height="0.90" fill="#134e8a" />
<line x1="298.50" y1="113.50" x2="301.90" y2="113.50" stroke="#222" stroke-width="0.75" />
<line x1="298.50" y1="112.50" x2="301.90" y2="112.50" stroke="#222" stroke-width="0.75" />
<line x1="298.50" y1="61.50" x2="301.90" y2="61.50" stroke="#222" stroke-width="0.75" />
<line x1="298.50" y1="60.50" x2="301.90" y2="60.50" stroke="#222" stroke-width="0.75" />
<line x1="300.50" y1="120.60" x2="300.50" y2="123.60" stroke="#231f20" stroke-width="0.85" />
<text x="292.02" y="132.60" font-size="8.0" text-anchor="start" fill="#231f20" font-weight="normal" stroke="#231f20" stroke-width="0.16"  textLength="16.36" lengthAdjust="spacingAndGlyphs">VEH</text>
<rect x="316.60" y="105.42" width="7.80" height="15.18" fill="#c8102e" />
<rect x="316.60" y="102.60" width="7.80" height="2.82" fill="#3cb44b" />
<rect x="316.60" y="61.20" width="7.80" height="41.40" fill="#f7901e" />
<rect x="316.60" y="60.60" width="7.80" height="0.60" fill="#134e8a" />
<line x1="318.80" y1="105.50" x2="322.20" y2="105.50" stroke="#222" stroke-width="0.75" />
<line x1="318.80" y1="102.50" x2="322.20" y2="102.50" stroke="#222" stroke-width="0.75" />
<line x1="318.80" y1="61.50" x2="322.20" y2="61.50" stroke="#222" stroke-width="0.75" />
<line x1="318.80" y1="60.50" x2="322.20" y2="60.50" stroke="#222" stroke-width="0.75" />
<line x1="320.50" y1="120.60" x2="320.50" y2="123.60" stroke="#231f20" stroke-width="0.85" />
<text x="313.17" y="132.60" font-size="8.0" text-anchor="start" fill="#231f20" font-weight="normal" stroke="#231f20" stroke-width="0.16"  textLength="14.66" lengthAdjust="spacingAndGlyphs">NEL</text>
<rect x="346.10" y="99.18" width="7.80" height="21.42" fill="#c8102e" />
<rect x="346.10" y="60.60" width="7.80" height="38.58" fill="#f7901e" />
<line x1="348.30" y1="99.50" x2="351.70" y2="99.50" stroke="#222" stroke-width="0.75" />
<line x1="348.30" y1="60.50" x2="351.70" y2="60.50" stroke="#222" stroke-width="0.75" />
<line x1="350.50" y1="120.60" x2="350.50" y2="123.60" stroke="#231f20" stroke-width="0.85" />
<text x="341.82" y="132.60" font-size="8.0" text-anchor="start" fill="#231f20" font-weight="normal" stroke="#231f20" stroke-width="0.16"  textLength="16.36" lengthAdjust="spacingAndGlyphs">VEH</text>
<rect x="366.60" y="95.82" width="7.80" height="24.78" fill="#c8102e" />
<rect x="366.60" y="60.60" width="7.80" height="35.22" fill="#f7901e" />
<line x1="368.80" y1="95.50" x2="372.20" y2="95.50" stroke="#222" stroke-width="0.75" />
<line x1="368.80" y1="60.50" x2="372.20" y2="60.50" stroke="#222" stroke-width="0.75" />
<line x1="370.50" y1="120.60" x2="370.50" y2="123.60" stroke="#231f20" stroke-width="0.85" />
<text x="363.17" y="132.60" font-size="8.0" text-anchor="start" fill="#231f20" font-weight="normal" stroke="#231f20" stroke-width="0.16"  textLength="14.66" lengthAdjust="spacingAndGlyphs">NEL</text>
<line x1="350.50" y1="99.18" x2="350.50" y2="90.60" stroke="#111" stroke-width="0.85" />
<line x1="348.20" y1="90.50" x2="351.80" y2="90.50" stroke="#111" stroke-width="1.0" />
<line x1="350.50" y1="60.60" x2="350.50" y2="52.20" stroke="#111" stroke-width="0.85" />
<line x1="348.20" y1="52.50" x2="351.80" y2="52.50" stroke="#111" stroke-width="1.0" />
<line x1="370.50" y1="95.82" x2="370.50" y2="91.20" stroke="#111" stroke-width="0.85" />
<line x1="368.70" y1="91.50" x2="372.30" y2="91.50" stroke="#111" stroke-width="1.0" />
<line x1="370.50" y1="60.60" x2="370.50" y2="55.80" stroke="#111" stroke-width="0.85" />
<line x1="368.70" y1="55.50" x2="372.30" y2="55.50" stroke="#111" stroke-width="1.0" />
<rect x="398.40" y="49.00" width="6.20" height="6.20" fill="#e8198b" />
<text x="407.57" y="54.50" font-size="7.2" text-anchor="start" fill="#333" font-weight="normal" stroke="#333" stroke-width="0.16"  textLength="14.66" lengthAdjust="spacingAndGlyphs">C+8</text>
<rect x="398.40" y="55.15" width="6.20" height="6.20" fill="#5b2a6e" />
<text x="407.57" y="60.65" font-size="7.2" text-anchor="start" fill="#333" font-weight="normal" stroke="#333" stroke-width="0.16"  textLength="14.66" lengthAdjust="spacingAndGlyphs">C+7</text>
<rect x="398.40" y="61.30" width="6.20" height="6.20" fill="#134e8a" />
<text x="407.57" y="66.80" font-size="7.2" text-anchor="start" fill="#333" font-weight="normal" stroke="#333" stroke-width="0.16"  textLength="14.66" lengthAdjust="spacingAndGlyphs">C+6</text>
<rect x="398.40" y="67.45" width="6.20" height="6.20" fill="#f7901e" />
<text x="407.57" y="72.95" font-size="7.2" text-anchor="start" fill="#333" font-weight="normal" stroke="#333" stroke-width="0.16"  textLength="14.66" lengthAdjust="spacingAndGlyphs">C+5</text>
<rect x="398.40" y="73.60" width="6.20" height="6.20" fill="#3cb44b" />
<text x="407.57" y="79.10" font-size="7.2" text-anchor="start" fill="#333" font-weight="normal" stroke="#333" stroke-width="0.16"  textLength="14.66" lengthAdjust="spacingAndGlyphs">C+4</text>
<rect x="398.40" y="79.75" width="6.20" height="6.20" fill="#fbb92a" />
<text x="407.57" y="85.25" font-size="7.2" text-anchor="start" fill="#333" font-weight="normal" stroke="#333" stroke-width="0.16"  textLength="14.66" lengthAdjust="spacingAndGlyphs">C+3</text>
<rect x="398.40" y="85.90" width="6.20" height="6.20" fill="#2eaae2" />
<text x="407.57" y="91.40" font-size="7.2" text-anchor="start" fill="#333" font-weight="normal" stroke="#333" stroke-width="0.16"  textLength="14.66" lengthAdjust="spacingAndGlyphs">C+2</text>
<rect x="398.40" y="92.05" width="6.20" height="6.20" fill="#0b6a55" />
<text x="407.57" y="97.55" font-size="7.2" text-anchor="start" fill="#333" font-weight="normal" stroke="#333" stroke-width="0.16"  textLength="14.66" lengthAdjust="spacingAndGlyphs">C+1</text>
<rect x="398.40" y="98.20" width="6.20" height="6.20" fill="#c8102e" />
<text x="407.57" y="103.70" font-size="7.2" text-anchor="start" fill="#333" font-weight="normal" stroke="#333" stroke-width="0.16"  textLength="14.66" lengthAdjust="spacingAndGlyphs">C+0</text>
<line x1="186.50" y1="161.00" x2="186.50" y2="251.85" stroke="#231f20" stroke-width="0.95" />
<line x1="183.50" y1="165.50" x2="186.50" y2="165.50" stroke="#231f20" stroke-width="0.95" />
<text x="181.00" y="168.33" font-size="8.4" text-anchor="end" fill="#231f20" font-weight="normal" stroke="#231f20" stroke-width="0.16"  textLength="15.69" lengthAdjust="spacingAndGlyphs">0.20</text>
<line x1="183.50" y1="186.50" x2="186.50" y2="186.50" stroke="#231f20" stroke-width="0.95" />
<text x="181.00" y="189.83" font-size="8.4" text-anchor="end" fill="#231f20" font-weight="normal" stroke="#231f20" stroke-width="0.16"  textLength="15.69" lengthAdjust="spacingAndGlyphs">0.15</text>
<line x1="183.50" y1="208.50" x2="186.50" y2="208.50" stroke="#231f20" stroke-width="0.95" />
<text x="181.00" y="211.33" font-size="8.4" text-anchor="end" fill="#231f20" font-weight="normal" stroke="#231f20" stroke-width="0.16"  textLength="15.69" lengthAdjust="spacingAndGlyphs">0.10</text>
<line x1="183.50" y1="229.50" x2="186.50" y2="229.50" stroke="#231f20" stroke-width="0.95" />
<text x="181.00" y="232.83" font-size="8.4" text-anchor="end" fill="#231f20" font-weight="normal" stroke="#231f20" stroke-width="0.16"  textLength="15.69" lengthAdjust="spacingAndGlyphs">0.05</text>
<line x1="183.50" y1="251.50" x2="186.50" y2="251.50" stroke="#231f20" stroke-width="0.95" />
<text x="181.00" y="254.33" font-size="8.4" text-anchor="end" fill="#231f20" font-weight="normal" stroke="#231f20" stroke-width="0.16"  textLength="15.69" lengthAdjust="spacingAndGlyphs">0.00</text>
<text x="158.80" y="206.30" font-size="9.0" text-anchor="middle" fill="#231f20" font-weight="normal" stroke="#231f20" stroke-width="0.16" transform="rotate(-90 158.80 206.30)" textLength="49.00" lengthAdjust="spacingAndGlyphs">dNTP/NTP ratio</text>
<line x1="185.90" y1="251.50" x2="314.80" y2="251.50" stroke="#231f20" stroke-width="0.95" />
<line x1="206.50" y1="251.40" x2="206.50" y2="254.00" stroke="#231f20" stroke-width="0.85" />
<line x1="250.50" y1="251.40" x2="250.50" y2="254.00" stroke="#231f20" stroke-width="0.85" />
<line x1="295.50" y1="251.40" x2="295.50" y2="254.00" stroke="#231f20" stroke-width="0.85" />
<rect x="189.20" y="238.50" width="6.40" height="12.90" fill="#c8102e" />
<line x1="192.50" y1="238.50" x2="192.50" y2="236.14" stroke="#111" stroke-width="0.85" />
<line x1="190.48" y1="236.50" x2="194.32" y2="236.50" stroke="#111" stroke-width="1.0" />
<line x1="189.50" y1="238.50" x2="195.30" y2="238.50" stroke="#222" stroke-width="0.6" opacity="0.7"/>
<rect x="199.00" y="216.14" width="6.00" height="35.26" fill="#134f8b" />
<line x1="202.50" y1="216.14" x2="202.50" y2="213.56" stroke="#111" stroke-width="0.85" />
<line x1="200.20" y1="213.50" x2="203.80" y2="213.50" stroke="#111" stroke-width="1.0" />
<line x1="199.30" y1="216.50" x2="204.70" y2="216.50" stroke="#222" stroke-width="0.6" opacity="0.7"/>
<rect x="208.40" y="241.94" width="6.20" height="9.46" fill="#3cb44b" />
<line x1="211.50" y1="241.94" x2="211.50" y2="241.08" stroke="#111" stroke-width="0.85" />
<line x1="209.64" y1="241.50" x2="213.36" y2="241.50" stroke="#111" stroke-width="1.0" />
<line x1="208.70" y1="242.50" x2="214.30" y2="242.50" stroke="#222" stroke-width="0.6" opacity="0.7"/>
<rect x="218.00" y="230.33" width="6.00" height="21.07" fill="#5b2a7a" />
<line x1="221.50" y1="230.33" x2="221.50" y2="229.69" stroke="#111" stroke-width="0.85" />
<line x1="219.20" y1="229.50" x2="222.80" y2="229.50" stroke="#111" stroke-width="1.0" />
<line x1="218.30" y1="230.50" x2="223.70" y2="230.50" stroke="#222" stroke-width="0.6" opacity="0.7"/>
<rect x="233.70" y="234.63" width="6.20" height="16.77" fill="#c8102e" />
<line x1="236.50" y1="234.63" x2="236.50" y2="233.77" stroke="#111" stroke-width="0.85" />
<line x1="234.94" y1="233.50" x2="238.66" y2="233.50" stroke="#111" stroke-width="1.0" />
<line x1="234.00" y1="234.50" x2="239.60" y2="234.50" stroke="#222" stroke-width="0.6" opacity="0.7"/>
<rect x="243.50" y="187.76" width="5.80" height="63.64" fill="#134f8b" />
<line x1="246.50" y1="187.76" x2="246.50" y2="185.40" stroke="#111" stroke-width="0.85" />
<line x1="244.66" y1="185.50" x2="248.14" y2="185.50" stroke="#111" stroke-width="1.0" />
<line x1="243.80" y1="188.50" x2="249.00" y2="188.50" stroke="#222" stroke-width="0.6" opacity="0.7"/>
<rect x="252.50" y="236.78" width="6.10" height="14.62" fill="#3cb44b" />
<line x1="255.50" y1="236.78" x2="255.50" y2="235.71" stroke="#111" stroke-width="0.85" />
<line x1="253.72" y1="235.50" x2="257.38" y2="235.50" stroke="#111" stroke-width="1.0" />
<line x1="252.80" y1="237.50" x2="258.30" y2="237.50" stroke="#222" stroke-width="0.6" opacity="0.7"/>
<rect x="262.20" y="229.04" width="6.10" height="22.36" fill="#5b2a7a" />
<line x1="265.50" y1="229.04" x2="265.50" y2="228.61" stroke="#111" stroke-width="0.85" />
<line x1="263.42" y1="228.50" x2="267.08" y2="228.50" stroke="#111" stroke-width="1.0" />
<line x1="262.50" y1="229.50" x2="268.00" y2="229.50" stroke="#222" stroke-width="0.6" opacity="0.7"/>
<rect x="277.90" y="245.38" width="6.00" height="6.02" fill="#c8102e" />
<line x1="280.50" y1="245.38" x2="280.50" y2="244.95" stroke="#111" stroke-width="0.85" />
<line x1="279.10" y1="244.50" x2="282.70" y2="244.50" stroke="#111" stroke-width="1.0" />
<line x1="278.20" y1="245.50" x2="283.60" y2="245.50" stroke="#222" stroke-width="0.6" opacity="0.7"/>
<rect x="287.40" y="220.18" width="5.80" height="31.22" fill="#134f8b" />
<line x1="290.50" y1="220.18" x2="290.50" y2="217.43" stroke="#111" stroke-width="0.85" />
<line x1="288.56" y1="217.50" x2="292.04" y2="217.50" stroke="#111" stroke-width="1.0" />
<line x1="287.70" y1="220.50" x2="292.90" y2="220.50" stroke="#222" stroke-width="0.6" opacity="0.7"/>
<rect x="297.00" y="250.54" width="5.60" height="0.86" fill="#3cb44b" />
<line x1="297.30" y1="250.50" x2="302.30" y2="250.50" stroke="#222" stroke-width="0.6" opacity="0.7"/>
<rect x="306.50" y="234.20" width="5.90" height="17.20" fill="#5b2a7a" />
<line x1="309.50" y1="234.20" x2="309.50" y2="233.77" stroke="#111" stroke-width="0.85" />
<line x1="307.68" y1="233.50" x2="311.22" y2="233.50" stroke="#111" stroke-width="1.0" />
<line x1="306.80" y1="234.50" x2="312.10" y2="234.50" stroke="#222" stroke-width="0.6" opacity="0.7"/>
<text x="188.43" y="263.50" font-size="7.8" text-anchor="start" fill="#231f20" font-weight="normal" stroke="#231f20" stroke-width="0.16"  textLength="36.44" lengthAdjust="spacingAndGlyphs">dATP/ATP</text>
<text x="231.53" y="263.50" font-size="7.8" text-anchor="start" fill="#231f20" font-weight="normal" stroke="#231f20" stroke-width="0.16"  textLength="38.14" lengthAdjust="spacingAndGlyphs">dCTP/CTP</text>
<text x="276.03" y="263.50" font-size="7.8" text-anchor="start" fill="#231f20" font-weight="normal" stroke="#231f20" stroke-width="0.16"  textLength="38.24" lengthAdjust="spacingAndGlyphs">dGTP/GTP</text>
<polyline points="192.50,236.50 192.50,213.50 199.50,213.50" fill="none" stroke="#333" stroke-width="0.9"/>
<text x="196.70" y="213.40" font-size="7.6" text-anchor="middle" fill="#231f20" font-weight="normal" stroke="#231f20" stroke-width="0.16"  textLength="5.92" lengthAdjust="spacingAndGlyphs">**</text>
<polyline points="206.50,213.50 221.50,213.50 221.50,228.50" fill="none" stroke="#333" stroke-width="0.9"/>
<text x="213.90" y="213.40" font-size="7.6" text-anchor="middle" fill="#231f20" font-weight="normal" stroke="#231f20" stroke-width="0.16"  textLength="5.92" lengthAdjust="spacingAndGlyphs">**</text>
<polyline points="236.50,233.50 236.50,186.50 243.50,186.50" fill="none" stroke="#333" stroke-width="0.9"/>
<text x="240.00" y="186.00" font-size="7.6" text-anchor="middle" fill="#231f20" font-weight="normal" stroke="#231f20" stroke-width="0.16"  textLength="5.92" lengthAdjust="spacingAndGlyphs">**</text>
<polyline points="250.50,186.50 265.50,186.50 265.50,227.50" fill="none" stroke="#333" stroke-width="0.9"/>
<text x="257.90" y="186.00" font-size="7.6" text-anchor="middle" fill="#231f20" font-weight="normal" stroke="#231f20" stroke-width="0.16"  textLength="5.92" lengthAdjust="spacingAndGlyphs">**</text>
<polyline points="280.50,243.50 280.50,217.50 287.50,217.50" fill="none" stroke="#333" stroke-width="0.9"/>
<text x="283.90" y="217.50" font-size="7.6" text-anchor="middle" fill="#231f20" font-weight="normal" stroke="#231f20" stroke-width="0.16"  textLength="5.92" lengthAdjust="spacingAndGlyphs">**</text>
<polyline points="294.50,217.50 309.50,217.50 309.50,233.50" fill="none" stroke="#333" stroke-width="0.9"/>
<text x="301.80" y="217.50" font-size="7.6" text-anchor="middle" fill="#231f20" font-weight="normal" stroke="#231f20" stroke-width="0.16"  textLength="5.92" lengthAdjust="spacingAndGlyphs">**</text>
<text x="197.90" y="204.90" font-size="7.2" text-anchor="middle" fill="#231f20" font-weight="normal" stroke="#231f20" stroke-width="0.16"  textLength="18.22" lengthAdjust="spacingAndGlyphs">2.68&#215;</text>
<line x1="192.30" y1="206.50" x2="201.40" y2="206.50" stroke="#444" stroke-width="0.95" />
<text x="206.50" y="194.40" font-size="7.2" text-anchor="middle" fill="#231f20" font-weight="normal" stroke="#231f20" stroke-width="0.16"  textLength="18.22" lengthAdjust="spacingAndGlyphs">1.59&#215;</text>
<line x1="192.30" y1="196.50" x2="220.60" y2="196.50" stroke="#444" stroke-width="0.95" />
<text x="241.50" y="176.80" font-size="7.2" text-anchor="middle" fill="#231f20" font-weight="normal" stroke="#231f20" stroke-width="0.16"  textLength="18.22" lengthAdjust="spacingAndGlyphs">3.82&#215;</text>
<line x1="233.00" y1="178.50" x2="246.60" y2="178.50" stroke="#444" stroke-width="0.95" />
<text x="251.00" y="166.60" font-size="7.2" text-anchor="middle" fill="#231f20" font-weight="normal" stroke="#231f20" stroke-width="0.16"  textLength="18.22" lengthAdjust="spacingAndGlyphs">1.38&#215;</text>
<line x1="236.80" y1="168.50" x2="264.70" y2="168.50" stroke="#444" stroke-width="0.95" />
<text x="286.00" y="208.40" font-size="7.2" text-anchor="middle" fill="#c8102e" font-weight="normal" stroke="#c8102e" stroke-width="0.16"  textLength="18.22" lengthAdjust="spacingAndGlyphs">5.21&#215;</text>
<line x1="280.30" y1="210.50" x2="289.60" y2="210.50" stroke="#444" stroke-width="0.95" />
<text x="294.00" y="197.80" font-size="7.2" text-anchor="middle" fill="#c8102e" font-weight="normal" stroke="#c8102e" stroke-width="0.16"  textLength="18.22" lengthAdjust="spacingAndGlyphs">2.85&#215;</text>
<line x1="280.30" y1="200.50" x2="308.00" y2="200.50" stroke="#444" stroke-width="0.95" />
<rect x="275.2" y="186.5" width="39.80" height="67.20" fill="none" stroke="#d42a4c" stroke-width="1.1" stroke-dasharray="2.4 1.6"/>
<text x="237.13" y="155.60" font-size="9.5" text-anchor="start" fill="#231f20" font-weight="normal" stroke="#231f20" stroke-width="0.16"  textLength="24.24" lengthAdjust="spacingAndGlyphs">U937</text>
<line x1="192.50" y1="158.50" x2="308.80" y2="158.50" stroke="#555" stroke-width="1.0" />
<line x1="373.50" y1="161.00" x2="373.50" y2="251.65" stroke="#231f20" stroke-width="0.95" />
<line x1="370.50" y1="164.50" x2="373.50" y2="164.50" stroke="#231f20" stroke-width="0.95" />
<text x="368.10" y="167.73" font-size="8.4" text-anchor="end" fill="#231f20" font-weight="normal" stroke="#231f20" stroke-width="0.16"  textLength="15.69" lengthAdjust="spacingAndGlyphs">0.20</text>
<line x1="370.50" y1="186.50" x2="373.50" y2="186.50" stroke="#231f20" stroke-width="0.95" />
<text x="368.10" y="189.33" font-size="8.4" text-anchor="end" fill="#231f20" font-weight="normal" stroke="#231f20" stroke-width="0.16"  textLength="15.69" lengthAdjust="spacingAndGlyphs">0.15</text>
<line x1="370.50" y1="208.50" x2="373.50" y2="208.50" stroke="#231f20" stroke-width="0.95" />
<text x="368.10" y="210.93" font-size="8.4" text-anchor="end" fill="#231f20" font-weight="normal" stroke="#231f20" stroke-width="0.16"  textLength="15.69" lengthAdjust="spacingAndGlyphs">0.10</text>
<line x1="370.50" y1="229.50" x2="373.50" y2="229.50" stroke="#231f20" stroke-width="0.95" />
<text x="368.10" y="232.53" font-size="8.4" text-anchor="end" fill="#231f20" font-weight="normal" stroke="#231f20" stroke-width="0.16"  textLength="15.69" lengthAdjust="spacingAndGlyphs">0.05</text>
<line x1="370.50" y1="251.50" x2="373.50" y2="251.50" stroke="#231f20" stroke-width="0.95" />
<text x="368.10" y="254.13" font-size="8.4" text-anchor="end" fill="#231f20" font-weight="normal" stroke="#231f20" stroke-width="0.16"  textLength="15.69" lengthAdjust="spacingAndGlyphs">0.00</text>
<text x="345.90" y="206.30" font-size="9.0" text-anchor="middle" fill="#231f20" font-weight="normal" stroke="#231f20" stroke-width="0.16" transform="rotate(-90 345.90 206.30)" textLength="49.00" lengthAdjust="spacingAndGlyphs">dNTP/NTP ratio</text>
<line x1="373.00" y1="251.50" x2="503.00" y2="251.50" stroke="#231f20" stroke-width="0.95" />
<line x1="393.50" y1="251.20" x2="393.50" y2="253.80" stroke="#231f20" stroke-width="0.85" />
<line x1="437.50" y1="251.20" x2="437.50" y2="253.80" stroke="#231f20" stroke-width="0.85" />
<line x1="481.50" y1="251.20" x2="481.50" y2="253.80" stroke="#231f20" stroke-width="0.85" />
<rect x="376.70" y="244.29" width="5.80" height="6.91" fill="#c8102e" />
<line x1="379.50" y1="244.29" x2="379.50" y2="243.64" stroke="#111" stroke-width="0.85" />
<line x1="377.86" y1="243.50" x2="381.34" y2="243.50" stroke="#111" stroke-width="1.0" />
<line x1="377.00" y1="244.50" x2="382.20" y2="244.50" stroke="#222" stroke-width="0.6" opacity="0.7"/>
<rect x="386.30" y="227.87" width="5.80" height="23.33" fill="#134f8b" />
<line x1="389.50" y1="227.87" x2="389.50" y2="227.22" stroke="#111" stroke-width="0.85" />
<line x1="387.46" y1="227.50" x2="390.94" y2="227.50" stroke="#111" stroke-width="1.0" />
<line x1="386.60" y1="228.50" x2="391.80" y2="228.50" stroke="#222" stroke-width="0.6" opacity="0.7"/>
<rect x="396.00" y="246.02" width="5.70" height="5.18" fill="#3cb44b" />
<line x1="398.50" y1="246.02" x2="398.50" y2="245.58" stroke="#111" stroke-width="0.85" />
<line x1="397.14" y1="245.50" x2="400.56" y2="245.50" stroke="#111" stroke-width="1.0" />
<line x1="396.30" y1="246.50" x2="401.40" y2="246.50" stroke="#222" stroke-width="0.6" opacity="0.7"/>
<rect x="405.20" y="238.89" width="5.80" height="12.31" fill="#5b2a7a" />
<line x1="408.50" y1="238.89" x2="408.50" y2="238.24" stroke="#111" stroke-width="0.85" />
<line x1="406.36" y1="238.50" x2="409.84" y2="238.50" stroke="#111" stroke-width="1.0" />
<line x1="405.50" y1="239.50" x2="410.70" y2="239.50" stroke="#222" stroke-width="0.6" opacity="0.7"/>
<rect x="421.00" y="238.24" width="5.90" height="12.96" fill="#c8102e" />
<line x1="423.50" y1="238.24" x2="423.50" y2="237.38" stroke="#111" stroke-width="0.85" />
<line x1="422.18" y1="237.50" x2="425.72" y2="237.50" stroke="#111" stroke-width="1.0" />
<line x1="421.30" y1="238.50" x2="426.60" y2="238.50" stroke="#222" stroke-width="0.6" opacity="0.7"/>
<rect x="430.10" y="188.13" width="6.30" height="63.07" fill="#134f8b" />
<line x1="433.50" y1="188.13" x2="433.50" y2="180.57" stroke="#111" stroke-width="0.85" />
<line x1="431.36" y1="180.50" x2="435.14" y2="180.50" stroke="#111" stroke-width="1.0" />
<line x1="430.40" y1="188.50" x2="436.10" y2="188.50" stroke="#222" stroke-width="0.6" opacity="0.7"/>
<rect x="440.00" y="231.33" width="6.00" height="19.87" fill="#3cb44b" />
<line x1="443.50" y1="231.33" x2="443.50" y2="230.90" stroke="#111" stroke-width="0.85" />
<line x1="441.20" y1="230.50" x2="444.80" y2="230.50" stroke="#111" stroke-width="1.0" />
<line x1="440.30" y1="231.50" x2="445.70" y2="231.50" stroke="#222" stroke-width="0.6" opacity="0.7"/>
<rect x="449.60" y="219.66" width="5.90" height="31.54" fill="#5b2a7a" />
<line x1="452.50" y1="219.66" x2="452.50" y2="217.94" stroke="#111" stroke-width="0.85" />
<line x1="450.78" y1="217.50" x2="454.32" y2="217.50" stroke="#111" stroke-width="1.0" />
<line x1="449.90" y1="219.50" x2="455.20" y2="219.50" stroke="#222" stroke-width="0.6" opacity="0.7"/>
<rect x="465.40" y="249.47" width="5.90" height="1.73" fill="#c8102e" />
<line x1="468.50" y1="249.47" x2="468.50" y2="249.04" stroke="#111" stroke-width="0.85" />
<line x1="466.58" y1="249.50" x2="470.12" y2="249.50" stroke="#111" stroke-width="1.0" />
<line x1="465.70" y1="249.50" x2="471.00" y2="249.50" stroke="#222" stroke-width="0.6" opacity="0.7"/>
<rect x="474.50" y="224.42" width="6.40" height="26.78" fill="#134f8b" />
<line x1="477.50" y1="224.42" x2="477.50" y2="223.98" stroke="#111" stroke-width="0.85" />
<line x1="475.78" y1="223.50" x2="479.62" y2="223.50" stroke="#111" stroke-width="1.0" />
<line x1="474.80" y1="224.50" x2="480.60" y2="224.50" stroke="#222" stroke-width="0.6" opacity="0.7"/>
<rect x="484.00" y="249.47" width="6.00" height="1.73" fill="#3cb44b" />
<line x1="487.50" y1="249.47" x2="487.50" y2="249.04" stroke="#111" stroke-width="0.85" />
<line x1="485.20" y1="249.50" x2="488.80" y2="249.50" stroke="#111" stroke-width="1.0" />
<line x1="484.30" y1="249.50" x2="489.70" y2="249.50" stroke="#222" stroke-width="0.6" opacity="0.7"/>
<rect x="493.60" y="241.78" width="6.40" height="9.42" fill="#5b2a7a" />
<line x1="496.50" y1="241.78" x2="496.50" y2="240.18" stroke="#111" stroke-width="0.85" />
<line x1="494.88" y1="240.50" x2="498.72" y2="240.50" stroke="#111" stroke-width="1.0" />
<line x1="493.90" y1="242.50" x2="499.70" y2="242.50" stroke="#222" stroke-width="0.6" opacity="0.7"/>
<text x="376.03" y="263.50" font-size="7.8" text-anchor="start" fill="#231f20" font-weight="normal" stroke="#231f20" stroke-width="0.16"  textLength="36.74" lengthAdjust="spacingAndGlyphs">dATP/ATP</text>
<text x="418.73" y="263.50" font-size="7.8" text-anchor="start" fill="#231f20" font-weight="normal" stroke="#231f20" stroke-width="0.16"  textLength="39.44" lengthAdjust="spacingAndGlyphs">dCTP/CTP</text>
<text x="461.83" y="263.50" font-size="7.8" text-anchor="start" fill="#231f20" font-weight="normal" stroke="#231f20" stroke-width="0.16"  textLength="39.44" lengthAdjust="spacingAndGlyphs">dGTP/GTP</text>
<polyline points="379.50,241.50 379.50,227.50 383.50,227.50" fill="none" stroke="#333" stroke-width="0.9"/>
<text x="382.50" y="227.40" font-size="7.6" text-anchor="middle" fill="#231f20" font-weight="normal" stroke="#231f20" stroke-width="0.16"  textLength="5.92" lengthAdjust="spacingAndGlyphs">**</text>
<polyline points="393.50,227.50 408.50,227.50 408.50,235.50" fill="none" stroke="#333" stroke-width="0.9"/>
<text x="400.80" y="227.40" font-size="7.6" text-anchor="middle" fill="#231f20" font-weight="normal" stroke="#231f20" stroke-width="0.16"  textLength="5.92" lengthAdjust="spacingAndGlyphs">**</text>
<polyline points="423.50,237.50 423.50,183.50 429.50,183.50" fill="none" stroke="#333" stroke-width="0.9"/>
<text x="427.00" y="182.50" font-size="7.6" text-anchor="middle" fill="#231f20" font-weight="normal" stroke="#231f20" stroke-width="0.16"  textLength="5.92" lengthAdjust="spacingAndGlyphs">**</text>
<polyline points="436.50,183.50 452.50,183.50 452.50,218.50" fill="none" stroke="#333" stroke-width="0.9"/>
<text x="444.90" y="182.50" font-size="7.6" text-anchor="middle" fill="#231f20" font-weight="normal" stroke="#231f20" stroke-width="0.16"  textLength="5.92" lengthAdjust="spacingAndGlyphs">**</text>
<polyline points="467.50,247.50 467.50,224.50 473.50,224.50" fill="none" stroke="#333" stroke-width="0.9"/>
<text x="470.30" y="223.80" font-size="7.6" text-anchor="middle" fill="#231f20" font-weight="normal" stroke="#231f20" stroke-width="0.16"  textLength="5.92" lengthAdjust="spacingAndGlyphs">**</text>
<polyline points="482.50,224.50 496.50,224.50 496.50,238.50" fill="none" stroke="#333" stroke-width="0.9"/>
<text x="489.30" y="223.80" font-size="7.6" text-anchor="middle" fill="#231f20" font-weight="normal" stroke="#231f20" stroke-width="0.16"  textLength="5.92" lengthAdjust="spacingAndGlyphs">**</text>
<text x="384.90" y="218.20" font-size="7.2" text-anchor="middle" fill="#231f20" font-weight="normal" stroke="#231f20" stroke-width="0.16"  textLength="18.22" lengthAdjust="spacingAndGlyphs">3.18&#215;</text>
<line x1="379.90" y1="220.50" x2="388.90" y2="220.50" stroke="#444" stroke-width="0.95" />
<text x="393.50" y="209.90" font-size="7.2" text-anchor="middle" fill="#231f20" font-weight="normal" stroke="#231f20" stroke-width="0.16"  textLength="18.22" lengthAdjust="spacingAndGlyphs">1.74&#215;</text>
<line x1="379.60" y1="211.50" x2="407.90" y2="211.50" stroke="#444" stroke-width="0.95" />
<text x="427.70" y="175.40" font-size="7.2" text-anchor="middle" fill="#231f20" font-weight="normal" stroke="#231f20" stroke-width="0.16"  textLength="18.22" lengthAdjust="spacingAndGlyphs">4.91&#215;</text>
<line x1="423.30" y1="177.50" x2="432.20" y2="177.50" stroke="#444" stroke-width="0.95" />
<text x="437.20" y="165.40" font-size="7.2" text-anchor="middle" fill="#231f20" font-weight="normal" stroke="#231f20" stroke-width="0.16"  textLength="18.22" lengthAdjust="spacingAndGlyphs">2.47&#215;</text>
<line x1="423.30" y1="167.50" x2="451.30" y2="167.50" stroke="#444" stroke-width="0.95" />
<text x="473.70" y="216.20" font-size="7.2" text-anchor="middle" fill="#c8102e" font-weight="normal" stroke="#c8102e" stroke-width="0.16"  textLength="22.22" lengthAdjust="spacingAndGlyphs">18.98&#215;</text>
<line x1="467.50" y1="217.50" x2="476.60" y2="217.50" stroke="#444" stroke-width="0.95" />
<text x="481.20" y="205.40" font-size="7.2" text-anchor="middle" fill="#c8102e" font-weight="normal" stroke="#c8102e" stroke-width="0.16"  textLength="18.22" lengthAdjust="spacingAndGlyphs">7.21&#215;</text>
<line x1="467.50" y1="207.50" x2="495.70" y2="207.50" stroke="#444" stroke-width="0.95" />
<rect x="461.0" y="185.5" width="39.40" height="66.00" fill="none" stroke="#d42a4c" stroke-width="1.1" stroke-dasharray="3.2 2.4"/>
<text x="423.83" y="155.90" font-size="9.5" text-anchor="start" fill="#231f20" font-weight="normal" stroke="#231f20" stroke-width="0.16"  textLength="26.54" lengthAdjust="spacingAndGlyphs">KG1A</text>
<line x1="379.60" y1="158.50" x2="496.70" y2="158.50" stroke="#555" stroke-width="1.0" />
<rect x="166.20" y="273.05" width="5.90" height="5.70" fill="#c8102e" />
<text x="174.67" y="278.40" font-size="7.2" text-anchor="start" fill="#231f20" font-weight="normal" stroke="#231f20" stroke-width="0.16"  textLength="14.66" lengthAdjust="spacingAndGlyphs">VEH</text>
<rect x="195.10" y="273.05" width="5.90" height="5.70" fill="#134f8b" />
<text x="203.37" y="278.40" font-size="7.2" text-anchor="start" fill="#231f20" font-weight="normal" stroke="#231f20" stroke-width="0.16"  textLength="14.26" lengthAdjust="spacingAndGlyphs">NEL</text>
<rect x="223.80" y="273.05" width="5.90" height="5.70" fill="#3cb44b" />
<text x="231.87" y="278.40" font-size="7.2" text-anchor="start" fill="#231f20" font-weight="normal" stroke="#231f20" stroke-width="0.16"  textLength="25.16" lengthAdjust="spacingAndGlyphs">COH29</text>
<rect x="263.00" y="273.05" width="5.90" height="5.70" fill="#5b2a7a" />
<text x="271.07" y="278.40" font-size="7.2" text-anchor="start" fill="#231f20" font-weight="normal" stroke="#231f20" stroke-width="0.16"  textLength="44.76" lengthAdjust="spacingAndGlyphs">NEL+COH29</text>
<rect x="353.50" y="273.05" width="5.90" height="5.70" fill="#c8102e" />
<text x="361.47" y="278.40" font-size="7.2" text-anchor="start" fill="#231f20" font-weight="normal" stroke="#231f20" stroke-width="0.16"  textLength="15.46" lengthAdjust="spacingAndGlyphs">VEH</text>
<rect x="382.40" y="273.05" width="5.90" height="5.70" fill="#134f8b" />
<text x="390.37" y="278.40" font-size="7.2" text-anchor="start" fill="#231f20" font-weight="normal" stroke="#231f20" stroke-width="0.16"  textLength="14.26" lengthAdjust="spacingAndGlyphs">NEL</text>
<rect x="411.20" y="273.05" width="5.90" height="5.70" fill="#3cb44b" />
<text x="419.37" y="278.40" font-size="7.2" text-anchor="start" fill="#231f20" font-weight="normal" stroke="#231f20" stroke-width="0.16"  textLength="25.86" lengthAdjust="spacingAndGlyphs">COH29</text>
<rect x="450.50" y="273.05" width="5.90" height="5.70" fill="#5b2a7a" />
<text x="458.67" y="278.40" font-size="7.2" text-anchor="start" fill="#231f20" font-weight="normal" stroke="#231f20" stroke-width="0.16"  textLength="44.16" lengthAdjust="spacingAndGlyphs">NEL+COH29</text>
<line x1="186.50" y1="304.40" x2="186.50" y2="394.15" stroke="#231f20" stroke-width="0.95" />
<line x1="183.50" y1="307.50" x2="186.50" y2="307.50" stroke="#231f20" stroke-width="0.95" />
<text x="180.16" y="310.39" font-size="7.7" text-anchor="end" fill="#231f20" font-weight="normal" stroke="#231f20" stroke-width="0.16"  textLength="17.13" lengthAdjust="spacingAndGlyphs">8000</text>
<line x1="183.50" y1="329.50" x2="186.50" y2="329.50" stroke="#231f20" stroke-width="0.95" />
<text x="180.16" y="331.89" font-size="7.7" text-anchor="end" fill="#231f20" font-weight="normal" stroke="#231f20" stroke-width="0.16"  textLength="17.13" lengthAdjust="spacingAndGlyphs">6000</text>
<line x1="183.50" y1="350.50" x2="186.50" y2="350.50" stroke="#231f20" stroke-width="0.95" />
<text x="180.16" y="353.39" font-size="7.7" text-anchor="end" fill="#231f20" font-weight="normal" stroke="#231f20" stroke-width="0.16"  textLength="17.13" lengthAdjust="spacingAndGlyphs">4000</text>
<line x1="183.50" y1="372.50" x2="186.50" y2="372.50" stroke="#231f20" stroke-width="0.95" />
<text x="180.16" y="374.89" font-size="7.7" text-anchor="end" fill="#231f20" font-weight="normal" stroke="#231f20" stroke-width="0.16"  textLength="17.13" lengthAdjust="spacingAndGlyphs">2000</text>
<line x1="183.50" y1="393.50" x2="186.50" y2="393.50" stroke="#231f20" stroke-width="0.95" />
<text x="180.16" y="396.39" font-size="7.7" text-anchor="end" fill="#231f20" font-weight="normal" stroke="#231f20" stroke-width="0.16"  textLength="4.28" lengthAdjust="spacingAndGlyphs">0</text>
<text x="156.50" y="347.80" font-size="9.2" text-anchor="middle" fill="#231f20" font-weight="normal" stroke="#231f20" stroke-width="0.16" transform="rotate(-90 156.50 347.80)" textLength="79.60" lengthAdjust="spacingAndGlyphs">CD11b expression (MFI)</text>
<line x1="183.40" y1="393.50" x2="238.40" y2="393.50" stroke="#231f20" stroke-width="0.95" />
<line x1="199.50" y1="393.70" x2="199.50" y2="396.30" stroke="#231f20" stroke-width="0.85" />
<line x1="226.50" y1="393.70" x2="226.50" y2="396.30" stroke="#231f20" stroke-width="0.85" />
<rect x="190.30" y="321.70" width="7.00" height="72.00" fill="#134f8b" />
<line x1="193.50" y1="321.70" x2="193.50" y2="319.60" stroke="#111" stroke-width="0.85" />
<line x1="191.70" y1="319.50" x2="195.90" y2="319.50" stroke="#111" stroke-width="1.0" />
<line x1="190.60" y1="322.50" x2="197.00" y2="322.50" stroke="#222" stroke-width="0.6" opacity="0.7"/>
<rect x="202.00" y="358.80" width="6.70" height="34.90" fill="#5b2a7a" />
<line x1="205.50" y1="358.80" x2="205.50" y2="358.00" stroke="#111" stroke-width="0.85" />
<line x1="203.34" y1="358.50" x2="207.36" y2="358.50" stroke="#111" stroke-width="1.0" />
<line x1="202.30" y1="359.50" x2="208.40" y2="359.50" stroke="#222" stroke-width="0.6" opacity="0.7"/>
<rect x="217.20" y="346.70" width="7.40" height="47.00" fill="#134f8b" />
<line x1="220.50" y1="346.70" x2="220.50" y2="345.20" stroke="#111" stroke-width="0.85" />
<line x1="218.68" y1="345.50" x2="223.12" y2="345.50" stroke="#111" stroke-width="1.0" />
<line x1="217.50" y1="347.50" x2="224.30" y2="347.50" stroke="#222" stroke-width="0.6" opacity="0.7"/>
<rect x="229.00" y="371.00" width="6.80" height="22.70" fill="#5b2a7a" />
<line x1="232.50" y1="371.00" x2="232.50" y2="370.20" stroke="#111" stroke-width="0.85" />
<line x1="230.36" y1="370.50" x2="234.44" y2="370.50" stroke="#111" stroke-width="1.0" />
<line x1="229.30" y1="371.50" x2="235.50" y2="371.50" stroke="#222" stroke-width="0.6" opacity="0.7"/>
<line x1="194.00" y1="318.50" x2="205.00" y2="318.50" stroke="#333" stroke-width="0.95" />
<text x="199.60" y="317.80" font-size="7.6" text-anchor="middle" fill="#231f20" font-weight="normal" stroke="#231f20" stroke-width="0.16"  textLength="5.92" lengthAdjust="spacingAndGlyphs">**</text>
<line x1="221.00" y1="343.50" x2="232.60" y2="343.50" stroke="#333" stroke-width="0.95" />
<text x="226.80" y="343.10" font-size="7.6" text-anchor="middle" fill="#231f20" font-weight="normal" stroke="#231f20" stroke-width="0.16"  textLength="5.92" lengthAdjust="spacingAndGlyphs">**</text>
<text x="164.94" y="403.90" font-size="7.6" text-anchor="start" fill="#231f20" font-weight="normal" stroke="#231f20" stroke-width="0.16"  textLength="15.31" lengthAdjust="spacingAndGlyphs">NEL</text>
<text x="153.34" y="412.70" font-size="7.6" text-anchor="start" fill="#231f20" font-weight="normal" stroke="#231f20" stroke-width="0.16"  textLength="26.91" lengthAdjust="spacingAndGlyphs">COH29</text>
<text x="193.50" y="403.90" font-size="7.6" text-anchor="middle" fill="#231f20" font-weight="normal" stroke="#231f20" stroke-width="0.16"  textLength="4.44" lengthAdjust="spacingAndGlyphs">+</text>
<text x="205.20" y="403.90" font-size="7.6" text-anchor="middle" fill="#231f20" font-weight="normal" stroke="#231f20" stroke-width="0.16"  textLength="4.44" lengthAdjust="spacingAndGlyphs">+</text>
<text x="220.40" y="403.90" font-size="7.6" text-anchor="middle" fill="#231f20" font-weight="normal" stroke="#231f20" stroke-width="0.16"  textLength="4.44" lengthAdjust="spacingAndGlyphs">+</text>
<text x="232.00" y="403.90" font-size="7.6" text-anchor="middle" fill="#231f20" font-weight="normal" stroke="#231f20" stroke-width="0.16"  textLength="4.44" lengthAdjust="spacingAndGlyphs">+</text>
<text x="193.50" y="412.70" font-size="7.6" text-anchor="middle" fill="#231f20" font-weight="normal" stroke="#231f20" stroke-width="0.16"  textLength="4.23" lengthAdjust="spacingAndGlyphs">&#8211;</text>
<text x="205.20" y="412.70" font-size="7.6" text-anchor="middle" fill="#231f20" font-weight="normal" stroke="#231f20" stroke-width="0.16"  textLength="4.44" lengthAdjust="spacingAndGlyphs">+</text>
<text x="220.40" y="412.70" font-size="7.6" text-anchor="middle" fill="#231f20" font-weight="normal" stroke="#231f20" stroke-width="0.16"  textLength="4.23" lengthAdjust="spacingAndGlyphs">&#8211;</text>
<text x="232.00" y="412.70" font-size="7.6" text-anchor="middle" fill="#231f20" font-weight="normal" stroke="#231f20" stroke-width="0.16"  textLength="4.44" lengthAdjust="spacingAndGlyphs">+</text>
<line x1="190.30" y1="413.50" x2="208.10" y2="413.50" stroke="#444" stroke-width="0.95" />
<line x1="217.20" y1="413.50" x2="235.20" y2="413.50" stroke="#444" stroke-width="0.95" />
<text x="189.84" y="421.80" font-size="7.7" text-anchor="start" fill="#231f20" font-weight="normal" stroke="#231f20" stroke-width="0.16"  textLength="19.42" lengthAdjust="spacingAndGlyphs">U937</text>
<text x="216.14" y="421.80" font-size="7.7" text-anchor="start" fill="#231f20" font-weight="normal" stroke="#231f20" stroke-width="0.16"  textLength="21.22" lengthAdjust="spacingAndGlyphs">KG1A</text>
<line x1="373.50" y1="304.40" x2="373.50" y2="394.15" stroke="#231f20" stroke-width="0.95" />
<line x1="370.50" y1="308.50" x2="373.50" y2="308.50" stroke="#231f20" stroke-width="0.95" />
<text x="369.16" y="310.79" font-size="7.7" text-anchor="end" fill="#231f20" font-weight="normal" stroke="#231f20" stroke-width="0.16"  textLength="17.13" lengthAdjust="spacingAndGlyphs">4000</text>
<line x1="370.50" y1="329.50" x2="373.50" y2="329.50" stroke="#231f20" stroke-width="0.95" />
<text x="369.16" y="332.19" font-size="7.7" text-anchor="end" fill="#231f20" font-weight="normal" stroke="#231f20" stroke-width="0.16"  textLength="17.13" lengthAdjust="spacingAndGlyphs">3000</text>
<line x1="370.50" y1="350.50" x2="373.50" y2="350.50" stroke="#231f20" stroke-width="0.95" />
<text x="369.16" y="353.59" font-size="7.7" text-anchor="end" fill="#231f20" font-weight="normal" stroke="#231f20" stroke-width="0.16"  textLength="17.13" lengthAdjust="spacingAndGlyphs">2000</text>
<line x1="370.50" y1="372.50" x2="373.50" y2="372.50" stroke="#231f20" stroke-width="0.95" />
<text x="369.16" y="374.99" font-size="7.7" text-anchor="end" fill="#231f20" font-weight="normal" stroke="#231f20" stroke-width="0.16"  textLength="17.13" lengthAdjust="spacingAndGlyphs">1000</text>
<line x1="370.50" y1="393.50" x2="373.50" y2="393.50" stroke="#231f20" stroke-width="0.95" />
<text x="369.16" y="396.39" font-size="7.7" text-anchor="end" fill="#231f20" font-weight="normal" stroke="#231f20" stroke-width="0.16"  textLength="4.28" lengthAdjust="spacingAndGlyphs">0</text>
<text x="344.50" y="347.80" font-size="9.2" text-anchor="middle" fill="#231f20" font-weight="normal" stroke="#231f20" stroke-width="0.16" transform="rotate(-90 344.50 347.80)" textLength="79.60" lengthAdjust="spacingAndGlyphs">CD11b expression (MFI)</text>
<line x1="370.40" y1="393.50" x2="508.00" y2="393.50" stroke="#231f20" stroke-width="0.95" />
<rect x="377.50" y="358.80" width="7.50" height="34.90" fill="#134f8b" />
<line x1="381.50" y1="358.80" x2="381.50" y2="357.60" stroke="#111" stroke-width="0.85" />
<line x1="379.00" y1="357.50" x2="383.50" y2="357.50" stroke="#111" stroke-width="1.0" />
<line x1="377.80" y1="359.50" x2="384.70" y2="359.50" stroke="#222" stroke-width="0.6" opacity="0.7"/>
<rect x="389.40" y="379.30" width="7.20" height="14.40" fill="#5b2a7a" />
<line x1="393.50" y1="379.30" x2="393.50" y2="378.40" stroke="#111" stroke-width="0.85" />
<line x1="390.84" y1="378.50" x2="395.16" y2="378.50" stroke="#111" stroke-width="1.0" />
<line x1="389.70" y1="379.50" x2="396.30" y2="379.50" stroke="#222" stroke-width="0.6" opacity="0.7"/>
<rect x="405.00" y="352.80" width="7.00" height="40.90" fill="#134f8b" />
<line x1="408.50" y1="352.80" x2="408.50" y2="351.60" stroke="#111" stroke-width="0.85" />
<line x1="406.40" y1="351.50" x2="410.60" y2="351.50" stroke="#111" stroke-width="1.0" />
<line x1="405.30" y1="353.50" x2="411.70" y2="353.50" stroke="#222" stroke-width="0.6" opacity="0.7"/>
<rect x="416.70" y="373.10" width="7.00" height="20.60" fill="#5b2a7a" />
<line x1="420.50" y1="373.10" x2="420.50" y2="372.20" stroke="#111" stroke-width="0.85" />
<line x1="418.10" y1="372.50" x2="422.30" y2="372.50" stroke="#111" stroke-width="1.0" />
<line x1="417.00" y1="373.50" x2="423.40" y2="373.50" stroke="#222" stroke-width="0.6" opacity="0.7"/>
<rect x="431.90" y="349.00" width="7.30" height="44.70" fill="#134f8b" />
<line x1="435.50" y1="349.00" x2="435.50" y2="347.80" stroke="#111" stroke-width="0.85" />
<line x1="433.36" y1="347.50" x2="437.74" y2="347.50" stroke="#111" stroke-width="1.0" />
<line x1="432.20" y1="349.50" x2="438.90" y2="349.50" stroke="#222" stroke-width="0.6" opacity="0.7"/>
<rect x="443.50" y="377.90" width="7.30" height="15.80" fill="#5b2a7a" />
<line x1="447.50" y1="377.90" x2="447.50" y2="377.00" stroke="#111" stroke-width="0.85" />
<line x1="444.96" y1="377.50" x2="449.34" y2="377.50" stroke="#111" stroke-width="1.0" />
<line x1="443.80" y1="378.50" x2="450.50" y2="378.50" stroke="#222" stroke-width="0.6" opacity="0.7"/>
<rect x="459.00" y="324.60" width="7.20" height="69.10" fill="#134f8b" />
<line x1="462.50" y1="324.60" x2="462.50" y2="322.60" stroke="#111" stroke-width="0.85" />
<line x1="460.44" y1="322.50" x2="464.76" y2="322.50" stroke="#111" stroke-width="1.0" />
<line x1="459.30" y1="324.50" x2="465.90" y2="324.50" stroke="#222" stroke-width="0.6" opacity="0.7"/>
<rect x="470.40" y="346.70" width="7.30" height="47.00" fill="#5b2a7a" />
<line x1="474.50" y1="346.70" x2="474.50" y2="345.40" stroke="#111" stroke-width="0.85" />
<line x1="471.86" y1="345.50" x2="476.24" y2="345.50" stroke="#111" stroke-width="1.0" />
<line x1="470.70" y1="347.50" x2="477.40" y2="347.50" stroke="#222" stroke-width="0.6" opacity="0.7"/>
<rect x="486.00" y="346.70" width="7.30" height="47.00" fill="#134f8b" />
<line x1="489.50" y1="346.70" x2="489.50" y2="342.90" stroke="#111" stroke-width="0.85" />
<line x1="487.46" y1="342.50" x2="491.84" y2="342.50" stroke="#111" stroke-width="1.0" />
<line x1="486.30" y1="347.50" x2="493.00" y2="347.50" stroke="#222" stroke-width="0.6" opacity="0.7"/>
<rect x="497.50" y="367.70" width="7.30" height="26.00" fill="#5b2a7a" />
<line x1="501.50" y1="367.70" x2="501.50" y2="366.60" stroke="#111" stroke-width="0.85" />
<line x1="498.96" y1="366.50" x2="503.34" y2="366.50" stroke="#111" stroke-width="1.0" />
<line x1="497.80" y1="368.50" x2="504.50" y2="368.50" stroke="#222" stroke-width="0.6" opacity="0.7"/>
<line x1="381.30" y1="355.50" x2="393.00" y2="355.50" stroke="#333" stroke-width="0.95" />
<text x="387.15" y="354.80" font-size="7.6" text-anchor="middle" fill="#231f20" font-weight="normal" stroke="#231f20" stroke-width="0.16"  textLength="5.92" lengthAdjust="spacingAndGlyphs">**</text>
<line x1="408.40" y1="349.50" x2="419.90" y2="349.50" stroke="#333" stroke-width="0.95" />
<text x="414.15" y="349.00" font-size="7.6" text-anchor="middle" fill="#231f20" font-weight="normal" stroke="#231f20" stroke-width="0.16"  textLength="5.92" lengthAdjust="spacingAndGlyphs">**</text>
<line x1="435.40" y1="345.50" x2="446.50" y2="345.50" stroke="#333" stroke-width="0.95" />
<text x="440.95" y="345.20" font-size="7.6" text-anchor="middle" fill="#231f20" font-weight="normal" stroke="#231f20" stroke-width="0.16"  textLength="5.92" lengthAdjust="spacingAndGlyphs">**</text>
<line x1="462.70" y1="320.50" x2="473.80" y2="320.50" stroke="#333" stroke-width="0.95" />
<text x="468.25" y="320.60" font-size="7.6" text-anchor="middle" fill="#231f20" font-weight="normal" stroke="#231f20" stroke-width="0.16"  textLength="5.92" lengthAdjust="spacingAndGlyphs">**</text>
<line x1="489.80" y1="339.50" x2="501.20" y2="339.50" stroke="#333" stroke-width="0.95" />
<text x="495.50" y="339.40" font-size="7.6" text-anchor="middle" fill="#231f20" font-weight="normal" stroke="#231f20" stroke-width="0.16"  textLength="5.92" lengthAdjust="spacingAndGlyphs">**</text>
<line x1="387.50" y1="393.70" x2="387.50" y2="396.30" stroke="#231f20" stroke-width="0.85" />
<text x="381.30" y="404.60" font-size="7.6" text-anchor="middle" fill="#231f20" font-weight="normal" stroke="#231f20" stroke-width="0.16"  textLength="4.44" lengthAdjust="spacingAndGlyphs">+</text>
<text x="392.60" y="404.60" font-size="7.6" text-anchor="middle" fill="#231f20" font-weight="normal" stroke="#231f20" stroke-width="0.16"  textLength="4.44" lengthAdjust="spacingAndGlyphs">+</text>
<text x="381.30" y="412.50" font-size="7.6" text-anchor="middle" fill="#231f20" font-weight="normal" stroke="#231f20" stroke-width="0.16"  textLength="4.23" lengthAdjust="spacingAndGlyphs">&#8211;</text>
<text x="392.60" y="412.50" font-size="7.6" text-anchor="middle" fill="#231f20" font-weight="normal" stroke="#231f20" stroke-width="0.16"  textLength="4.44" lengthAdjust="spacingAndGlyphs">+</text>
<line x1="377.30" y1="414.50" x2="396.50" y2="414.50" stroke="#444" stroke-width="0.95" />
<text x="382.14" y="422.10" font-size="7.6" text-anchor="start" fill="#231f20" font-weight="normal" stroke="#231f20" stroke-width="0.16"  textLength="9.61" lengthAdjust="spacingAndGlyphs">#2</text>
<line x1="414.50" y1="393.70" x2="414.50" y2="396.30" stroke="#231f20" stroke-width="0.85" />
<text x="408.40" y="404.60" font-size="7.6" text-anchor="middle" fill="#231f20" font-weight="normal" stroke="#231f20" stroke-width="0.16"  textLength="4.44" lengthAdjust="spacingAndGlyphs">+</text>
<text x="419.70" y="404.60" font-size="7.6" text-anchor="middle" fill="#231f20" font-weight="normal" stroke="#231f20" stroke-width="0.16"  textLength="4.44" lengthAdjust="spacingAndGlyphs">+</text>
<text x="408.40" y="412.50" font-size="7.6" text-anchor="middle" fill="#231f20" font-weight="normal" stroke="#231f20" stroke-width="0.16"  textLength="4.23" lengthAdjust="spacingAndGlyphs">&#8211;</text>
<text x="419.70" y="412.50" font-size="7.6" text-anchor="middle" fill="#231f20" font-weight="normal" stroke="#231f20" stroke-width="0.16"  textLength="4.44" lengthAdjust="spacingAndGlyphs">+</text>
<line x1="404.40" y1="414.50" x2="423.60" y2="414.50" stroke="#444" stroke-width="0.95" />
<text x="409.24" y="422.10" font-size="7.6" text-anchor="start" fill="#231f20" font-weight="normal" stroke="#231f20" stroke-width="0.16"  textLength="9.61" lengthAdjust="spacingAndGlyphs">#3</text>
<line x1="441.50" y1="393.70" x2="441.50" y2="396.30" stroke="#231f20" stroke-width="0.85" />
<text x="435.50" y="404.60" font-size="7.6" text-anchor="middle" fill="#231f20" font-weight="normal" stroke="#231f20" stroke-width="0.16"  textLength="4.44" lengthAdjust="spacingAndGlyphs">+</text>
<text x="446.80" y="404.60" font-size="7.6" text-anchor="middle" fill="#231f20" font-weight="normal" stroke="#231f20" stroke-width="0.16"  textLength="4.44" lengthAdjust="spacingAndGlyphs">+</text>
<text x="435.50" y="412.50" font-size="7.6" text-anchor="middle" fill="#231f20" font-weight="normal" stroke="#231f20" stroke-width="0.16"  textLength="4.23" lengthAdjust="spacingAndGlyphs">&#8211;</text>
<text x="446.80" y="412.50" font-size="7.6" text-anchor="middle" fill="#231f20" font-weight="normal" stroke="#231f20" stroke-width="0.16"  textLength="4.44" lengthAdjust="spacingAndGlyphs">+</text>
<line x1="431.50" y1="414.50" x2="450.70" y2="414.50" stroke="#444" stroke-width="0.95" />
<text x="436.34" y="422.10" font-size="7.6" text-anchor="start" fill="#231f20" font-weight="normal" stroke="#231f20" stroke-width="0.16"  textLength="9.61" lengthAdjust="spacingAndGlyphs">#4</text>
<line x1="468.50" y1="393.70" x2="468.50" y2="396.30" stroke="#231f20" stroke-width="0.85" />
<text x="462.60" y="404.60" font-size="7.6" text-anchor="middle" fill="#231f20" font-weight="normal" stroke="#231f20" stroke-width="0.16"  textLength="4.44" lengthAdjust="spacingAndGlyphs">+</text>
<text x="473.90" y="404.60" font-size="7.6" text-anchor="middle" fill="#231f20" font-weight="normal" stroke="#231f20" stroke-width="0.16"  textLength="4.44" lengthAdjust="spacingAndGlyphs">+</text>
<text x="462.60" y="412.50" font-size="7.6" text-anchor="middle" fill="#231f20" font-weight="normal" stroke="#231f20" stroke-width="0.16"  textLength="4.23" lengthAdjust="spacingAndGlyphs">&#8211;</text>
<text x="473.90" y="412.50" font-size="7.6" text-anchor="middle" fill="#231f20" font-weight="normal" stroke="#231f20" stroke-width="0.16"  textLength="4.44" lengthAdjust="spacingAndGlyphs">+</text>
<line x1="458.60" y1="414.50" x2="477.80" y2="414.50" stroke="#444" stroke-width="0.95" />
<text x="463.44" y="422.10" font-size="7.6" text-anchor="start" fill="#231f20" font-weight="normal" stroke="#231f20" stroke-width="0.16"  textLength="9.61" lengthAdjust="spacingAndGlyphs">#5</text>
<line x1="495.50" y1="393.70" x2="495.50" y2="396.30" stroke="#231f20" stroke-width="0.85" />
<text x="489.70" y="404.60" font-size="7.6" text-anchor="middle" fill="#231f20" font-weight="normal" stroke="#231f20" stroke-width="0.16"  textLength="4.44" lengthAdjust="spacingAndGlyphs">+</text>
<text x="501.00" y="404.60" font-size="7.6" text-anchor="middle" fill="#231f20" font-weight="normal" stroke="#231f20" stroke-width="0.16"  textLength="4.44" lengthAdjust="spacingAndGlyphs">+</text>
<text x="489.70" y="412.50" font-size="7.6" text-anchor="middle" fill="#231f20" font-weight="normal" stroke="#231f20" stroke-width="0.16"  textLength="4.23" lengthAdjust="spacingAndGlyphs">&#8211;</text>
<text x="501.00" y="412.50" font-size="7.6" text-anchor="middle" fill="#231f20" font-weight="normal" stroke="#231f20" stroke-width="0.16"  textLength="4.44" lengthAdjust="spacingAndGlyphs">+</text>
<line x1="485.70" y1="414.50" x2="504.90" y2="414.50" stroke="#444" stroke-width="0.95" />
<text x="490.54" y="422.10" font-size="7.6" text-anchor="start" fill="#231f20" font-weight="normal" stroke="#231f20" stroke-width="0.16"  textLength="9.61" lengthAdjust="spacingAndGlyphs">#6</text>
<text x="352.54" y="404.60" font-size="7.6" text-anchor="start" fill="#231f20" font-weight="normal" stroke="#231f20" stroke-width="0.16"  textLength="14.61" lengthAdjust="spacingAndGlyphs">NEL</text>
<text x="340.74" y="412.50" font-size="7.6" text-anchor="start" fill="#231f20" font-weight="normal" stroke="#231f20" stroke-width="0.16"  textLength="26.41" lengthAdjust="spacingAndGlyphs">COH29</text>
<text x="330.54" y="421.50" font-size="7.6" text-anchor="start" fill="#231f20" font-weight="normal" stroke="#231f20" stroke-width="0.16"  textLength="36.61" lengthAdjust="spacingAndGlyphs">Sample ID</text>
<text x="34.24" y="477.20" font-size="7.6" text-anchor="start" fill="#231f20" font-weight="normal" stroke="#231f20" stroke-width="0.16"  textLength="23.11" lengthAdjust="spacingAndGlyphs">ishCtrl</text>
<text x="25.54" y="487.30" font-size="7.6" text-anchor="start" fill="#231f20" font-weight="normal" stroke="#231f20" stroke-width="0.16"  textLength="31.81" lengthAdjust="spacingAndGlyphs">ishRRM2</text>
<text x="42.34" y="496.60" font-size="7.6" text-anchor="start" fill="#231f20" font-weight="normal" stroke="#231f20" stroke-width="0.16"  textLength="15.01" lengthAdjust="spacingAndGlyphs">Dox</text>
<text x="35.64" y="507.50" font-size="7.6" text-anchor="start" fill="#231f20" font-weight="normal" stroke="#231f20" stroke-width="0.16"  textLength="21.71" lengthAdjust="spacingAndGlyphs">RRM2</text>
<text x="33.04" y="521.80" font-size="7.6" text-anchor="start" fill="#231f20" font-weight="normal" stroke="#231f20" stroke-width="0.16"  textLength="24.31" lengthAdjust="spacingAndGlyphs">&#946;-actin</text>
<text x="70.40" y="477.20" font-size="7.6" text-anchor="middle" fill="#231f20" font-weight="normal" stroke="#231f20" stroke-width="0.16"  textLength="4.44" lengthAdjust="spacingAndGlyphs">+</text>
<text x="85.60" y="477.20" font-size="7.6" text-anchor="middle" fill="#231f20" font-weight="normal" stroke="#231f20" stroke-width="0.16"  textLength="4.44" lengthAdjust="spacingAndGlyphs">+</text>
<text x="101.30" y="477.20" font-size="7.6" text-anchor="middle" fill="#231f20" font-weight="normal" stroke="#231f20" stroke-width="0.16"  textLength="4.23" lengthAdjust="spacingAndGlyphs">&#8211;</text>
<text x="117.30" y="477.20" font-size="7.6" text-anchor="middle" fill="#231f20" font-weight="normal" stroke="#231f20" stroke-width="0.16"  textLength="4.23" lengthAdjust="spacingAndGlyphs">&#8211;</text>
<text x="70.40" y="487.30" font-size="7.6" text-anchor="middle" fill="#231f20" font-weight="normal" stroke="#231f20" stroke-width="0.16"  textLength="4.23" lengthAdjust="spacingAndGlyphs">&#8211;</text>
<text x="85.60" y="487.30" font-size="7.6" text-anchor="middle" fill="#231f20" font-weight="normal" stroke="#231f20" stroke-width="0.16"  textLength="4.23" lengthAdjust="spacingAndGlyphs">&#8211;</text>
<text x="101.30" y="487.30" font-size="7.6" text-anchor="middle" fill="#231f20" font-weight="normal" stroke="#231f20" stroke-width="0.16"  textLength="4.44" lengthAdjust="spacingAndGlyphs">+</text>
<text x="117.30" y="487.30" font-size="7.6" text-anchor="middle" fill="#231f20" font-weight="normal" stroke="#231f20" stroke-width="0.16"  textLength="4.44" lengthAdjust="spacingAndGlyphs">+</text>
<text x="70.40" y="496.60" font-size="7.6" text-anchor="middle" fill="#231f20" font-weight="normal" stroke="#231f20" stroke-width="0.16"  textLength="4.23" lengthAdjust="spacingAndGlyphs">&#8211;</text>
<text x="85.60" y="496.60" font-size="7.6" text-anchor="middle" fill="#231f20" font-weight="normal" stroke="#231f20" stroke-width="0.16"  textLength="4.44" lengthAdjust="spacingAndGlyphs">+</text>
<text x="101.30" y="496.60" font-size="7.6" text-anchor="middle" fill="#231f20" font-weight="normal" stroke="#231f20" stroke-width="0.16"  textLength="4.23" lengthAdjust="spacingAndGlyphs">&#8211;</text>
<text x="117.30" y="496.60" font-size="7.6" text-anchor="middle" fill="#231f20" font-weight="normal" stroke="#231f20" stroke-width="0.16"  textLength="4.44" lengthAdjust="spacingAndGlyphs">+</text>
<rect x="60.9" y="499.1" width="64.6" height="11.4" fill="#f1f1f1" stroke="#111" stroke-width="1.2"/>
<rect x="60.9" y="513.9" width="64.6" height="11.5" fill="#f1f1f1" stroke="#111" stroke-width="1.2"/>
<rect x="62.10" y="503.0" width="12.6" height="2.8" rx="1.4" fill="#111" opacity="0.92" filter="url(#blur1)"/>
<rect x="61.60" y="518.1" width="13.6" height="3.4" rx="1.6" fill="#111" opacity="0.95" filter="url(#blur1)"/>
<rect x="78.00" y="503.0" width="12.6" height="2.8" rx="1.4" fill="#111" opacity="0.92" filter="url(#blur1)"/>
<rect x="77.40" y="518.1" width="13.8" height="3.4" rx="1.6" fill="#111" opacity="0.95" filter="url(#blur1)"/>
<rect x="94.20" y="503.0" width="12.8" height="2.8" rx="1.4" fill="#111" opacity="0.92" filter="url(#blur1)"/>
<rect x="93.60" y="518.1" width="14.0" height="3.4" rx="1.6" fill="#111" opacity="0.95" filter="url(#blur1)"/>
<rect x="110.90" y="503.0" width="12.6" height="2.8" rx="1.4" fill="#111" opacity="0.3" filter="url(#blur1)"/>
<rect x="110.30" y="518.1" width="13.8" height="3.4" rx="1.6" fill="#111" opacity="0.95" filter="url(#blur1)"/>
<line x1="186.50" y1="444.60" x2="186.50" y2="533.95" stroke="#231f20" stroke-width="0.95" />
<line x1="183.50" y1="447.50" x2="186.50" y2="447.50" stroke="#231f20" stroke-width="0.95" />
<text x="181.16" y="450.29" font-size="7.7" text-anchor="end" fill="#231f20" font-weight="normal" stroke="#231f20" stroke-width="0.16"  textLength="17.13" lengthAdjust="spacingAndGlyphs">2500</text>
<line x1="183.50" y1="464.50" x2="186.50" y2="464.50" stroke="#231f20" stroke-width="0.95" />
<text x="181.16" y="467.47" font-size="7.7" text-anchor="end" fill="#231f20" font-weight="normal" stroke="#231f20" stroke-width="0.16"  textLength="17.13" lengthAdjust="spacingAndGlyphs">2000</text>
<line x1="183.50" y1="481.50" x2="186.50" y2="481.50" stroke="#231f20" stroke-width="0.95" />
<text x="181.16" y="484.65" font-size="7.7" text-anchor="end" fill="#231f20" font-weight="normal" stroke="#231f20" stroke-width="0.16"  textLength="17.13" lengthAdjust="spacingAndGlyphs">1500</text>
<line x1="183.50" y1="499.50" x2="186.50" y2="499.50" stroke="#231f20" stroke-width="0.95" />
<text x="181.16" y="501.83" font-size="7.7" text-anchor="end" fill="#231f20" font-weight="normal" stroke="#231f20" stroke-width="0.16"  textLength="17.13" lengthAdjust="spacingAndGlyphs">1000</text>
<line x1="183.50" y1="516.50" x2="186.50" y2="516.50" stroke="#231f20" stroke-width="0.95" />
<text x="181.16" y="519.01" font-size="7.7" text-anchor="end" fill="#231f20" font-weight="normal" stroke="#231f20" stroke-width="0.16"  textLength="12.85" lengthAdjust="spacingAndGlyphs">500</text>
<line x1="183.50" y1="533.50" x2="186.50" y2="533.50" stroke="#231f20" stroke-width="0.95" />
<text x="181.16" y="536.19" font-size="7.7" text-anchor="end" fill="#231f20" font-weight="normal" stroke="#231f20" stroke-width="0.16"  textLength="4.28" lengthAdjust="spacingAndGlyphs">0</text>
<text x="156.80" y="487.80" font-size="9.2" text-anchor="middle" fill="#231f20" font-weight="normal" stroke="#231f20" stroke-width="0.16" transform="rotate(-90 156.80 487.80)" textLength="79.60" lengthAdjust="spacingAndGlyphs">CD11b expression (MFI)</text>
<line x1="183.50" y1="533.50" x2="243.50" y2="533.50" stroke="#231f20" stroke-width="0.95" />
<line x1="199.50" y1="533.50" x2="199.50" y2="536.10" stroke="#231f20" stroke-width="0.85" />
<line x1="230.50" y1="533.50" x2="230.50" y2="536.10" stroke="#231f20" stroke-width="0.85" />
<rect x="190.50" y="521.90" width="6.90" height="11.60" fill="#c8102e" />
<line x1="193.50" y1="521.90" x2="193.50" y2="521.00" stroke="#111" stroke-width="0.85" />
<line x1="191.88" y1="521.50" x2="196.02" y2="521.50" stroke="#111" stroke-width="1.0" />
<line x1="190.80" y1="522.50" x2="197.10" y2="522.50" stroke="#222" stroke-width="0.6" opacity="0.7"/>
<rect x="202.00" y="516.90" width="7.00" height="16.60" fill="#3cb44b" />
<line x1="205.50" y1="516.90" x2="205.50" y2="516.20" stroke="#111" stroke-width="0.85" />
<line x1="203.40" y1="516.50" x2="207.60" y2="516.50" stroke="#111" stroke-width="1.0" />
<line x1="202.30" y1="517.50" x2="208.70" y2="517.50" stroke="#222" stroke-width="0.6" opacity="0.7"/>
<rect x="221.20" y="459.60" width="6.90" height="73.90" fill="#134f8b" />
<line x1="224.50" y1="459.60" x2="224.50" y2="457.60" stroke="#111" stroke-width="0.85" />
<line x1="222.58" y1="457.50" x2="226.72" y2="457.50" stroke="#111" stroke-width="1.0" />
<line x1="221.50" y1="459.50" x2="227.80" y2="459.50" stroke="#222" stroke-width="0.6" opacity="0.7"/>
<rect x="232.20" y="485.70" width="7.00" height="47.80" fill="#5b2a7a" />
<line x1="235.50" y1="485.70" x2="235.50" y2="484.90" stroke="#111" stroke-width="0.85" />
<line x1="233.60" y1="484.50" x2="237.80" y2="484.50" stroke="#111" stroke-width="1.0" />
<line x1="232.50" y1="486.50" x2="238.90" y2="486.50" stroke="#222" stroke-width="0.6" opacity="0.7"/>
<polyline points="194.50,520.50 194.50,459.50 216.50,459.50" fill="none" stroke="#333" stroke-width="0.9"/>
<polyline points="230.50,459.50 235.50,459.50 235.50,484.50" fill="none" stroke="#333" stroke-width="0.9"/>
<text x="206.00" y="459.40" font-size="7.6" text-anchor="middle" fill="#231f20" font-weight="normal" stroke="#231f20" stroke-width="0.16"  textLength="5.92" lengthAdjust="spacingAndGlyphs">**</text>
<text x="233.40" y="459.20" font-size="7.6" text-anchor="middle" fill="#231f20" font-weight="normal" stroke="#231f20" stroke-width="0.16"  textLength="5.92" lengthAdjust="spacingAndGlyphs">**</text>
<text x="157.54" y="545.80" font-size="7.6" text-anchor="start" fill="#231f20" font-weight="normal" stroke="#231f20" stroke-width="0.16"  textLength="23.71" lengthAdjust="spacingAndGlyphs">ishCtrl</text>
<text x="194.00" y="545.80" font-size="7.6" text-anchor="middle" fill="#231f20" font-weight="normal" stroke="#231f20" stroke-width="0.16"  textLength="4.44" lengthAdjust="spacingAndGlyphs">+</text>
<text x="205.20" y="545.80" font-size="7.6" text-anchor="middle" fill="#231f20" font-weight="normal" stroke="#231f20" stroke-width="0.16"  textLength="4.23" lengthAdjust="spacingAndGlyphs">&#8211;</text>
<text x="224.20" y="545.80" font-size="7.6" text-anchor="middle" fill="#231f20" font-weight="normal" stroke="#231f20" stroke-width="0.16"  textLength="4.44" lengthAdjust="spacingAndGlyphs">+</text>
<text x="236.30" y="545.80" font-size="7.6" text-anchor="middle" fill="#231f20" font-weight="normal" stroke="#231f20" stroke-width="0.16"  textLength="4.23" lengthAdjust="spacingAndGlyphs">&#8211;</text>
<text x="150.54" y="554.30" font-size="7.6" text-anchor="start" fill="#231f20" font-weight="normal" stroke="#231f20" stroke-width="0.16"  textLength="30.71" lengthAdjust="spacingAndGlyphs">ishRRM2</text>
<text x="194.00" y="554.30" font-size="7.6" text-anchor="middle" fill="#231f20" font-weight="normal" stroke="#231f20" stroke-width="0.16"  textLength="4.23" lengthAdjust="spacingAndGlyphs">&#8211;</text>
<text x="205.20" y="554.30" font-size="7.6" text-anchor="middle" fill="#231f20" font-weight="normal" stroke="#231f20" stroke-width="0.16"  textLength="4.44" lengthAdjust="spacingAndGlyphs">+</text>
<text x="224.20" y="554.30" font-size="7.6" text-anchor="middle" fill="#231f20" font-weight="normal" stroke="#231f20" stroke-width="0.16"  textLength="4.23" lengthAdjust="spacingAndGlyphs">&#8211;</text>
<text x="236.30" y="554.30" font-size="7.6" text-anchor="middle" fill="#231f20" font-weight="normal" stroke="#231f20" stroke-width="0.16"  textLength="4.44" lengthAdjust="spacingAndGlyphs">+</text>
<text x="166.54" y="562.70" font-size="7.6" text-anchor="start" fill="#231f20" font-weight="normal" stroke="#231f20" stroke-width="0.16"  textLength="14.71" lengthAdjust="spacingAndGlyphs">Dox</text>
<text x="194.00" y="562.70" font-size="7.6" text-anchor="middle" fill="#231f20" font-weight="normal" stroke="#231f20" stroke-width="0.16"  textLength="4.44" lengthAdjust="spacingAndGlyphs">+</text>
<text x="205.20" y="562.70" font-size="7.6" text-anchor="middle" fill="#231f20" font-weight="normal" stroke="#231f20" stroke-width="0.16"  textLength="4.44" lengthAdjust="spacingAndGlyphs">+</text>
<text x="224.20" y="562.70" font-size="7.6" text-anchor="middle" fill="#231f20" font-weight="normal" stroke="#231f20" stroke-width="0.16"  textLength="4.44" lengthAdjust="spacingAndGlyphs">+</text>
<text x="236.30" y="562.70" font-size="7.6" text-anchor="middle" fill="#231f20" font-weight="normal" stroke="#231f20" stroke-width="0.16"  textLength="4.44" lengthAdjust="spacingAndGlyphs">+</text>
<text x="166.54" y="571.20" font-size="7.6" text-anchor="start" fill="#231f20" font-weight="normal" stroke="#231f20" stroke-width="0.16"  textLength="14.71" lengthAdjust="spacingAndGlyphs">NEL</text>
<text x="194.00" y="571.20" font-size="7.6" text-anchor="middle" fill="#231f20" font-weight="normal" stroke="#231f20" stroke-width="0.16"  textLength="4.23" lengthAdjust="spacingAndGlyphs">&#8211;</text>
<text x="205.20" y="571.20" font-size="7.6" text-anchor="middle" fill="#231f20" font-weight="normal" stroke="#231f20" stroke-width="0.16"  textLength="4.23" lengthAdjust="spacingAndGlyphs">&#8211;</text>
<text x="224.20" y="571.20" font-size="7.6" text-anchor="middle" fill="#231f20" font-weight="normal" stroke="#231f20" stroke-width="0.16"  textLength="4.44" lengthAdjust="spacingAndGlyphs">+</text>
<text x="236.30" y="571.20" font-size="7.6" text-anchor="middle" fill="#231f20" font-weight="normal" stroke="#231f20" stroke-width="0.16"  textLength="4.44" lengthAdjust="spacingAndGlyphs">+</text>
<text x="297.00" y="455.00" font-size="8.4" text-anchor="start" fill="#231f20" font-weight="normal" stroke="#231f20" stroke-width="0.16"  textLength="114.51" lengthAdjust="spacingAndGlyphs">2&#8242;-Deoxynucleosides (dNs)</text>
<text x="287.73" y="470.35" font-size="7.8" text-anchor="start" fill="#231f20" font-weight="normal" stroke="#231f20" stroke-width="0.16"  textLength="11.49" lengthAdjust="spacingAndGlyphs">dG</text>
<text x="288.63" y="489.85" font-size="7.8" text-anchor="start" fill="#231f20" font-weight="normal" stroke="#231f20" stroke-width="0.16"  textLength="10.59" lengthAdjust="spacingAndGlyphs">dC</text>
<text x="289.53" y="509.15" font-size="7.8" text-anchor="start" fill="#231f20" font-weight="normal" stroke="#231f20" stroke-width="0.16"  textLength="9.69" lengthAdjust="spacingAndGlyphs">dT</text>
<text x="288.63" y="528.25" font-size="7.8" text-anchor="start" fill="#231f20" font-weight="normal" stroke="#231f20" stroke-width="0.16"  textLength="10.59" lengthAdjust="spacingAndGlyphs">dA</text>
<circle cx="308.6" cy="467.9" r="6.2" fill="#f8f0b0" stroke="#6a6a6a" stroke-width="0.8"/>
<circle cx="322.6" cy="467.9" r="5.0" fill="#ddd6b0" stroke="#6a6a6a" stroke-width="0.8"/>
<circle cx="335.8" cy="467.9" r="4.8" fill="#b9b6b8" stroke="#6a6a6a" stroke-width="0.8"/>
<circle cx="349.0" cy="467.9" r="3.3" fill="#7c78a8" stroke="#6a6a6a" stroke-width="0.8"/>
<circle cx="362.0" cy="467.9" r="2.3" fill="#3e3c86" stroke="#6a6a6a" stroke-width="0.8"/>
<circle cx="375.0" cy="467.9" r="1.5" fill="#2c2a70" stroke="#6a6a6a" stroke-width="0.45"/>
<circle cx="388.0" cy="467.9" r="1.15" fill="#2c2a70" stroke="#6a6a6a" stroke-width="0.45"/>
<circle cx="401.2" cy="467.9" r="0.95" fill="#2c2a70" stroke="#6a6a6a" stroke-width="0.45"/>
<circle cx="308.6" cy="487.4" r="6.2" fill="#f8f0b0" stroke="#6a6a6a" stroke-width="0.8"/>
<circle cx="322.6" cy="487.4" r="6.2" fill="#f8f0b0" stroke="#6a6a6a" stroke-width="0.8"/>
<circle cx="335.8" cy="487.4" r="6.2" fill="#f8f0b0" stroke="#6a6a6a" stroke-width="0.8"/>
<circle cx="349.0" cy="487.4" r="6.2" fill="#f8f0b0" stroke="#6a6a6a" stroke-width="0.8"/>
<circle cx="362.0" cy="487.4" r="6.2" fill="#f8f0b0" stroke="#6a6a6a" stroke-width="0.8"/>
<circle cx="375.0" cy="487.4" r="6.2" fill="#f8f0b0" stroke="#6a6a6a" stroke-width="0.8"/>
<circle cx="388.0" cy="487.4" r="6.2" fill="#f8f0b0" stroke="#6a6a6a" stroke-width="0.8"/>
<circle cx="401.2" cy="487.4" r="6.2" fill="#f8f0b0" stroke="#6a6a6a" stroke-width="0.8"/>
<circle cx="308.6" cy="506.7" r="6.2" fill="#f8f0b0" stroke="#6a6a6a" stroke-width="0.8"/>
<circle cx="322.6" cy="506.7" r="6.0" fill="#f8f0b0" stroke="#6a6a6a" stroke-width="0.8"/>
<circle cx="335.8" cy="506.7" r="5.6" fill="#ece5b4" stroke="#6a6a6a" stroke-width="0.8"/>
<circle cx="349.0" cy="506.7" r="4.9" fill="#ddd7b3" stroke="#6a6a6a" stroke-width="0.8"/>
<circle cx="362.0" cy="506.7" r="4.0" fill="#d2ceb4" stroke="#6a6a6a" stroke-width="0.8"/>
<circle cx="375.0" cy="506.7" r="2.8" fill="#9a97b8" stroke="#6a6a6a" stroke-width="0.8"/>
<circle cx="388.0" cy="506.7" r="2.2" fill="#8c89b4" stroke="#6a6a6a" stroke-width="0.8"/>
<circle cx="401.2" cy="506.7" r="2.2" fill="#8c89b4" stroke="#6a6a6a" stroke-width="0.8"/>
<circle cx="308.6" cy="525.8" r="6.2" fill="#f8f0b0" stroke="#6a6a6a" stroke-width="0.8"/>
<circle cx="322.6" cy="525.8" r="6.2" fill="#f8f0b0" stroke="#6a6a6a" stroke-width="0.8"/>
<circle cx="335.8" cy="525.8" r="6.2" fill="#f8f0b0" stroke="#6a6a6a" stroke-width="0.8"/>
<circle cx="349.0" cy="525.8" r="6.2" fill="#f0e9b6" stroke="#6a6a6a" stroke-width="0.8"/>
<circle cx="362.0" cy="525.8" r="6.1" fill="#ece6b6" stroke="#6a6a6a" stroke-width="0.8"/>
<circle cx="375.0" cy="525.8" r="5.6" fill="#e6e0b5" stroke="#6a6a6a" stroke-width="0.8"/>
<circle cx="388.0" cy="525.8" r="5.1" fill="#d4d0b4" stroke="#6a6a6a" stroke-width="0.8"/>
<circle cx="401.2" cy="525.8" r="5.1" fill="#b5b3bc" stroke="#6a6a6a" stroke-width="0.8"/>
<text x="307.73" y="541.50" font-size="7.8" text-anchor="start" fill="#231f20" font-weight="normal" stroke="#231f20" stroke-width="0.16"  textLength="4.54" lengthAdjust="spacingAndGlyphs">0</text>
<text x="318.53" y="541.50" font-size="7.8" text-anchor="start" fill="#231f20" font-weight="normal" stroke="#231f20" stroke-width="0.16"  textLength="11.84" lengthAdjust="spacingAndGlyphs">2.5</text>
<text x="333.03" y="541.50" font-size="7.8" text-anchor="start" fill="#231f20" font-weight="normal" stroke="#231f20" stroke-width="0.16"  textLength="5.74" lengthAdjust="spacingAndGlyphs">5</text>
<text x="346.23" y="541.50" font-size="7.8" text-anchor="start" fill="#231f20" font-weight="normal" stroke="#231f20" stroke-width="0.16"  textLength="9.34" lengthAdjust="spacingAndGlyphs">10</text>
<text x="358.23" y="541.50" font-size="7.8" text-anchor="start" fill="#231f20" font-weight="normal" stroke="#231f20" stroke-width="0.16"  textLength="9.34" lengthAdjust="spacingAndGlyphs">20</text>
<text x="371.43" y="541.50" font-size="7.8" text-anchor="start" fill="#231f20" font-weight="normal" stroke="#231f20" stroke-width="0.16"  textLength="9.34" lengthAdjust="spacingAndGlyphs">40</text>
<text x="384.23" y="541.50" font-size="7.8" text-anchor="start" fill="#231f20" font-weight="normal" stroke="#231f20" stroke-width="0.16"  textLength="9.84" lengthAdjust="spacingAndGlyphs">80</text>
<text x="396.73" y="541.50" font-size="7.8" text-anchor="start" fill="#231f20" font-weight="normal" stroke="#231f20" stroke-width="0.16"  textLength="13.64" lengthAdjust="spacingAndGlyphs">160</text>
<line x1="302.60" y1="549.50" x2="411.50" y2="549.50" stroke="#000" stroke-width="1.1" />
<polygon points="415.5,549.5 409.5,546.9 409.5,552.1" fill="#000"/>
<text x="340.21" y="559.00" font-size="8.2" text-anchor="start" fill="#231f20" font-weight="normal" stroke="#231f20" stroke-width="0.16"  textLength="38.18" lengthAdjust="spacingAndGlyphs">Conc. (&#956;M)</text>
<text x="424.43" y="467.70" font-size="7.8" text-anchor="start" fill="#231f20" font-weight="normal" stroke="#231f20" stroke-width="0.16"  textLength="78.34" lengthAdjust="spacingAndGlyphs">CD11b expression FC</text>
<text x="441.73" y="477.20" font-size="7.8" text-anchor="start" fill="#231f20" font-weight="normal" stroke="#231f20" stroke-width="0.16"  textLength="43.34" lengthAdjust="spacingAndGlyphs">over control</text>
<rect x="414.4" y="481.2" width="99" height="11.3" fill="url(#bluey)" stroke="#000" stroke-width="1"/>
<line x1="434.50" y1="481.60" x2="434.50" y2="483.20" stroke="#000" stroke-width="0.8" />
<line x1="434.50" y1="490.50" x2="434.50" y2="492.10" stroke="#000" stroke-width="0.8" />
<text x="434.90" y="501.90" font-size="7.8" text-anchor="middle" fill="#231f20" font-weight="normal" stroke="#231f20" stroke-width="0.16"  textLength="4.34" lengthAdjust="spacingAndGlyphs">2</text>
<line x1="455.50" y1="481.60" x2="455.50" y2="483.20" stroke="#000" stroke-width="0.8" />
<line x1="455.50" y1="490.50" x2="455.50" y2="492.10" stroke="#000" stroke-width="0.8" />
<text x="455.40" y="501.90" font-size="7.8" text-anchor="middle" fill="#231f20" font-weight="normal" stroke="#231f20" stroke-width="0.16"  textLength="4.34" lengthAdjust="spacingAndGlyphs">3</text>
<line x1="476.50" y1="481.60" x2="476.50" y2="483.20" stroke="#000" stroke-width="0.8" />
<line x1="476.50" y1="490.50" x2="476.50" y2="492.10" stroke="#000" stroke-width="0.8" />
<text x="476.20" y="501.90" font-size="7.8" text-anchor="middle" fill="#231f20" font-weight="normal" stroke="#231f20" stroke-width="0.16"  textLength="4.34" lengthAdjust="spacingAndGlyphs">4</text>
<line x1="496.50" y1="481.60" x2="496.50" y2="483.20" stroke="#000" stroke-width="0.8" />
<line x1="496.50" y1="490.50" x2="496.50" y2="492.10" stroke="#000" stroke-width="0.8" />
<text x="496.80" y="501.90" font-size="7.8" text-anchor="middle" fill="#231f20" font-weight="normal" stroke="#231f20" stroke-width="0.16"  textLength="4.34" lengthAdjust="spacingAndGlyphs">5</text>
<text x="421.13" y="512.00" font-size="7.8" text-anchor="start" fill="#231f20" font-weight="normal" stroke="#231f20" stroke-width="0.16"  textLength="85.64" lengthAdjust="spacingAndGlyphs">Relative cell viability (%)</text>
<circle cx="452.5" cy="530.2" r="7.0" fill="#fff" stroke="#333" stroke-width="0.8"/>
<circle cx="470.9" cy="530.2" r="2.2" fill="#fff" stroke="#333" stroke-width="0.7"/>
<circle cx="485.0" cy="530.2" r="0.8" fill="#333"/>
<text x="452.50" y="546.20" font-size="7.8" text-anchor="middle" fill="#231f20" font-weight="normal" stroke="#231f20" stroke-width="0.16"  textLength="13.01" lengthAdjust="spacingAndGlyphs">100</text>
<text x="470.90" y="546.20" font-size="7.8" text-anchor="middle" fill="#231f20" font-weight="normal" stroke="#231f20" stroke-width="0.16"  textLength="8.68" lengthAdjust="spacingAndGlyphs">10</text>
<text x="485.00" y="546.20" font-size="7.8" text-anchor="middle" fill="#231f20" font-weight="normal" stroke="#231f20" stroke-width="0.16"  textLength="4.34" lengthAdjust="spacingAndGlyphs">1</text>
<line x1="54.50" y1="586.20" x2="54.50" y2="676.75" stroke="#231f20" stroke-width="0.95" />
<line x1="51.60" y1="589.50" x2="54.60" y2="589.50" stroke="#231f20" stroke-width="0.95" />
<text x="33.03" y="592.50" font-size="7.9" text-anchor="start" fill="#231f20" font-weight="normal" stroke="#231f20" stroke-width="0.16"  textLength="16.65" lengthAdjust="spacingAndGlyphs">0.06</text>
<line x1="51.60" y1="618.50" x2="54.60" y2="618.50" stroke="#231f20" stroke-width="0.95" />
<text x="33.03" y="621.35" font-size="7.9" text-anchor="start" fill="#231f20" font-weight="normal" stroke="#231f20" stroke-width="0.16"  textLength="16.65" lengthAdjust="spacingAndGlyphs">0.04</text>
<line x1="51.60" y1="647.50" x2="54.60" y2="647.50" stroke="#231f20" stroke-width="0.95" />
<text x="33.03" y="650.20" font-size="7.9" text-anchor="start" fill="#231f20" font-weight="normal" stroke="#231f20" stroke-width="0.16"  textLength="16.65" lengthAdjust="spacingAndGlyphs">0.02</text>
<line x1="51.60" y1="676.50" x2="54.60" y2="676.50" stroke="#231f20" stroke-width="0.95" />
<text x="33.03" y="679.05" font-size="7.9" text-anchor="start" fill="#231f20" font-weight="normal" stroke="#231f20" stroke-width="0.16"  textLength="16.65" lengthAdjust="spacingAndGlyphs">0.00</text>
<text x="27.60" y="631.40" font-size="9.0" text-anchor="middle" fill="#231f20" font-weight="normal" stroke="#231f20" stroke-width="0.16" transform="rotate(-90 27.60 631.40)" textLength="49.00" lengthAdjust="spacingAndGlyphs">dNTP/NTP ratio</text>
<line x1="52.00" y1="676.50" x2="142.70" y2="676.50" stroke="#231f20" stroke-width="0.95" />
<line x1="68.50" y1="676.30" x2="68.50" y2="678.90" stroke="#231f20" stroke-width="0.85" />
<line x1="98.50" y1="676.30" x2="98.50" y2="678.90" stroke="#231f20" stroke-width="0.85" />
<line x1="129.50" y1="676.30" x2="129.50" y2="678.90" stroke="#231f20" stroke-width="0.85" />
<rect x="58.70" y="632.50" width="7.80" height="43.80" fill="#c8102e" />
<line x1="62.50" y1="632.50" x2="62.50" y2="625.20" stroke="#111" stroke-width="0.85" />
<line x1="60.26" y1="625.50" x2="64.94" y2="625.50" stroke="#111" stroke-width="1.0" />
<line x1="59.00" y1="632.50" x2="66.20" y2="632.50" stroke="#222" stroke-width="0.6" opacity="0.7"/>
<rect x="70.00" y="623.00" width="8.10" height="53.30" fill="#134f8b" />
<line x1="74.50" y1="623.00" x2="74.50" y2="622.20" stroke="#111" stroke-width="0.85" />
<line x1="71.62" y1="622.50" x2="76.48" y2="622.50" stroke="#111" stroke-width="1.0" />
<line x1="70.30" y1="623.50" x2="77.80" y2="623.50" stroke="#222" stroke-width="0.6" opacity="0.7"/>
<rect x="89.40" y="620.60" width="7.50" height="55.70" fill="#c8102e" />
<line x1="93.50" y1="620.60" x2="93.50" y2="617.10" stroke="#111" stroke-width="0.85" />
<line x1="90.90" y1="617.50" x2="95.40" y2="617.50" stroke="#111" stroke-width="1.0" />
<line x1="89.70" y1="620.50" x2="96.60" y2="620.50" stroke="#222" stroke-width="0.6" opacity="0.7"/>
<rect x="100.40" y="600.40" width="7.80" height="75.90" fill="#134f8b" />
<line x1="104.50" y1="600.40" x2="104.50" y2="597.50" stroke="#111" stroke-width="0.85" />
<line x1="101.96" y1="597.50" x2="106.64" y2="597.50" stroke="#111" stroke-width="1.0" />
<line x1="100.70" y1="600.50" x2="107.90" y2="600.50" stroke="#222" stroke-width="0.6" opacity="0.7"/>
<rect x="119.90" y="656.10" width="7.50" height="20.20" fill="#c8102e" />
<line x1="123.50" y1="656.10" x2="123.50" y2="655.40" stroke="#111" stroke-width="0.85" />
<line x1="121.40" y1="655.50" x2="125.90" y2="655.50" stroke="#111" stroke-width="1.0" />
<line x1="120.20" y1="656.50" x2="127.10" y2="656.50" stroke="#222" stroke-width="0.6" opacity="0.7"/>
<rect x="131.30" y="626.20" width="7.50" height="50.10" fill="#134f8b" />
<line x1="135.50" y1="626.20" x2="135.50" y2="625.60" stroke="#111" stroke-width="0.85" />
<line x1="132.80" y1="625.50" x2="137.30" y2="625.50" stroke="#111" stroke-width="1.0" />
<line x1="131.60" y1="626.50" x2="138.50" y2="626.50" stroke="#222" stroke-width="0.6" opacity="0.7"/>
<rect x="62.50" y="582.90" width="4.90" height="4.90" fill="#c8102e" />
<text x="70.03" y="588.00" font-size="7.8" text-anchor="start" fill="#231f20" font-weight="normal" stroke="#231f20" stroke-width="0.16"  textLength="16.04" lengthAdjust="spacingAndGlyphs">VEH</text>
<rect x="62.50" y="592.00" width="4.90" height="4.90" fill="#134f8b" />
<text x="70.03" y="597.20" font-size="7.8" text-anchor="start" fill="#231f20" font-weight="normal" stroke="#231f20" stroke-width="0.16"  textLength="11.24" lengthAdjust="spacingAndGlyphs">dG</text>
<text x="60.54" y="613.40" font-size="7.6" text-anchor="start" fill="#231f20" font-weight="normal" stroke="#231f20" stroke-width="0.16"  textLength="18.71" lengthAdjust="spacingAndGlyphs">1.21&#215;</text>
<line x1="63.30" y1="615.50" x2="74.80" y2="615.50" stroke="#444" stroke-width="0.95" />
<text x="90.34" y="587.60" font-size="7.6" text-anchor="start" fill="#231f20" font-weight="normal" stroke="#231f20" stroke-width="0.16"  textLength="17.81" lengthAdjust="spacingAndGlyphs">1.36&#215;</text>
<line x1="93.80" y1="590.50" x2="104.80" y2="590.50" stroke="#444" stroke-width="0.95" />
<polyline points="93.50,613.50 93.50,597.50 99.50,597.50" fill="none" stroke="#333" stroke-width="0.9"/>
<text x="96.40" y="598.00" font-size="7.6" text-anchor="middle" fill="#231f20" font-weight="normal" stroke="#231f20" stroke-width="0.16"  textLength="5.92" lengthAdjust="spacingAndGlyphs">**</text>
<rect x="116.3" y="602.2" width="28.1" height="75.9" fill="none" stroke="#d42a4c" stroke-width="1.2" stroke-dasharray="3.2 2.4"/>
<text x="121.54" y="613.50" font-size="7.6" text-anchor="start" fill="#c8102e" font-weight="normal" stroke="#c8102e" stroke-width="0.16"  textLength="18.91" lengthAdjust="spacingAndGlyphs">2.50&#215;</text>
<line x1="126.10" y1="615.50" x2="136.20" y2="615.50" stroke="#444" stroke-width="0.95" />
<polyline points="123.50,650.50 123.50,624.50 130.50,624.50" fill="none" stroke="#333" stroke-width="0.9"/>
<text x="126.50" y="624.40" font-size="7.6" text-anchor="middle" fill="#231f20" font-weight="normal" stroke="#231f20" stroke-width="0.16"  textLength="5.92" lengthAdjust="spacingAndGlyphs">**</text>
<text x="56.82" y="688.80" font-size="8.0" text-anchor="start" fill="#231f20" font-weight="normal" stroke="#231f20" stroke-width="0.16"  textLength="22.96" lengthAdjust="spacingAndGlyphs">dATP/</text>
<text x="61.42" y="697.60" font-size="8.0" text-anchor="start" fill="#231f20" font-weight="normal" stroke="#231f20" stroke-width="0.16"  textLength="14.66" lengthAdjust="spacingAndGlyphs">ATP</text>
<text x="87.02" y="688.80" font-size="8.0" text-anchor="start" fill="#231f20" font-weight="normal" stroke="#231f20" stroke-width="0.16"  textLength="22.86" lengthAdjust="spacingAndGlyphs">dCTP/</text>
<text x="90.62" y="697.60" font-size="8.0" text-anchor="start" fill="#231f20" font-weight="normal" stroke="#231f20" stroke-width="0.16"  textLength="15.66" lengthAdjust="spacingAndGlyphs">CTP</text>
<text x="117.52" y="688.80" font-size="8.0" text-anchor="start" fill="#231f20" font-weight="normal" stroke="#231f20" stroke-width="0.16"  textLength="23.46" lengthAdjust="spacingAndGlyphs">dGTP/</text>
<text x="121.22" y="697.60" font-size="8.0" text-anchor="start" fill="#231f20" font-weight="normal" stroke="#231f20" stroke-width="0.16"  textLength="16.06" lengthAdjust="spacingAndGlyphs">GTP</text>
<text x="244.87" y="594.20" font-size="8.8" text-anchor="start" fill="#231f20" font-weight="normal" stroke="#231f20" stroke-width="0.16"  textLength="23.46" lengthAdjust="spacingAndGlyphs">U937</text>
<polyline points="217.50,630.50 232.00,630.40 236.00,629.60 238.50,627.00 240.80,619.20 242.90,608.80 244.30,604.00 245.50,602.80 247.20,605.40 249.80,610.60 252.40,614.00 254.60,617.50 257.60,623.50 261.00,627.00 265.40,629.60 268.80,630.50 295.20,630.50" fill="none" stroke="#d0203a" stroke-width="1.3" stroke-linejoin="round" />
<polyline points="217.50,646.00 240.00,645.90 243.50,645.60 245.50,645.20 248.00,640.80 250.70,633.00 253.30,624.40 255.30,619.20 256.60,620.60 257.60,618.80 258.80,620.60 259.80,619.40 261.00,620.40 262.30,622.60 263.60,622.00 265.40,625.30 268.80,630.50 272.30,636.50 275.70,642.60 279.20,645.50 283.00,646.00 295.20,646.00" fill="none" stroke="#1f5a9a" stroke-width="1.3" stroke-linejoin="round" />
<polyline points="217.50,661.60 238.00,661.50 242.90,660.70 245.50,655.60 248.00,646.90 249.80,640.80 250.70,637.00 251.60,638.40 252.60,635.80 253.80,637.20 255.00,635.80 256.20,636.80 257.60,635.60 259.30,639.10 261.90,645.20 265.40,652.10 268.80,658.10 273.10,661.10 277.00,661.60 295.20,661.60" fill="none" stroke="#3cba4a" stroke-width="1.3" stroke-linejoin="round" />
<polyline points="236.00,676.00 240.30,675.40 243.70,671.10 246.30,664.20 248.40,655.60 250.10,650.00 251.50,652.10 253.30,657.30 255.30,661.60 257.60,665.10 260.20,669.40 263.60,673.70 267.10,676.00" fill="none" stroke="#5b2a7a" stroke-width="1.3" stroke-linejoin="round" />
<polyline points="217.4,676.6 217.4,598.6 295.3,598.6 295.3,676.6" fill="none" stroke="#111" stroke-width="1.0"/>
<line x1="216.90" y1="676.50" x2="295.80" y2="676.50" stroke="#111" stroke-width="1.1" />
<line x1="223.50" y1="676.50" x2="223.50" y2="679.10" stroke="#222" stroke-width="0.75" />
<line x1="218.50" y1="676.50" x2="218.50" y2="678.40" stroke="#222" stroke-width="0.6" />
<line x1="220.50" y1="676.50" x2="220.50" y2="678.40" stroke="#222" stroke-width="0.6" />
<line x1="221.50" y1="676.50" x2="221.50" y2="678.40" stroke="#222" stroke-width="0.6" />
<line x1="222.50" y1="676.50" x2="222.50" y2="678.40" stroke="#222" stroke-width="0.6" />
<line x1="223.50" y1="676.50" x2="223.50" y2="678.40" stroke="#222" stroke-width="0.6" />
<line x1="240.50" y1="676.50" x2="240.50" y2="679.10" stroke="#222" stroke-width="0.75" />
<line x1="228.50" y1="676.50" x2="228.50" y2="678.40" stroke="#222" stroke-width="0.6" />
<line x1="231.50" y1="676.50" x2="231.50" y2="678.40" stroke="#222" stroke-width="0.6" />
<line x1="233.50" y1="676.50" x2="233.50" y2="678.40" stroke="#222" stroke-width="0.6" />
<line x1="235.50" y1="676.50" x2="235.50" y2="678.40" stroke="#222" stroke-width="0.6" />
<line x1="236.50" y1="676.50" x2="236.50" y2="678.40" stroke="#222" stroke-width="0.6" />
<line x1="237.50" y1="676.50" x2="237.50" y2="678.40" stroke="#222" stroke-width="0.6" />
<line x1="238.50" y1="676.50" x2="238.50" y2="678.40" stroke="#222" stroke-width="0.6" />
<line x1="239.50" y1="676.50" x2="239.50" y2="678.40" stroke="#222" stroke-width="0.6" />
<line x1="256.50" y1="676.50" x2="256.50" y2="679.10" stroke="#222" stroke-width="0.75" />
<line x1="245.50" y1="676.50" x2="245.50" y2="678.40" stroke="#222" stroke-width="0.6" />
<line x1="248.50" y1="676.50" x2="248.50" y2="678.40" stroke="#222" stroke-width="0.6" />
<line x1="250.50" y1="676.50" x2="250.50" y2="678.40" stroke="#222" stroke-width="0.6" />
<line x1="251.50" y1="676.50" x2="251.50" y2="678.40" stroke="#222" stroke-width="0.6" />
<line x1="253.50" y1="676.50" x2="253.50" y2="678.40" stroke="#222" stroke-width="0.6" />
<line x1="254.50" y1="676.50" x2="254.50" y2="678.40" stroke="#222" stroke-width="0.6" />
<line x1="255.50" y1="676.50" x2="255.50" y2="678.40" stroke="#222" stroke-width="0.6" />
<line x1="255.50" y1="676.50" x2="255.50" y2="678.40" stroke="#222" stroke-width="0.6" />
<line x1="273.50" y1="676.50" x2="273.50" y2="679.10" stroke="#222" stroke-width="0.75" />
<line x1="261.50" y1="676.50" x2="261.50" y2="678.40" stroke="#222" stroke-width="0.6" />
<line x1="264.50" y1="676.50" x2="264.50" y2="678.40" stroke="#222" stroke-width="0.6" />
<line x1="266.50" y1="676.50" x2="266.50" y2="678.40" stroke="#222" stroke-width="0.6" />
<line x1="268.50" y1="676.50" x2="268.50" y2="678.40" stroke="#222" stroke-width="0.6" />
<line x1="269.50" y1="676.50" x2="269.50" y2="678.40" stroke="#222" stroke-width="0.6" />
<line x1="270.50" y1="676.50" x2="270.50" y2="678.40" stroke="#222" stroke-width="0.6" />
<line x1="271.50" y1="676.50" x2="271.50" y2="678.40" stroke="#222" stroke-width="0.6" />
<line x1="272.50" y1="676.50" x2="272.50" y2="678.40" stroke="#222" stroke-width="0.6" />
<line x1="289.50" y1="676.50" x2="289.50" y2="679.10" stroke="#222" stroke-width="0.75" />
<line x1="278.50" y1="676.50" x2="278.50" y2="678.40" stroke="#222" stroke-width="0.6" />
<line x1="280.50" y1="676.50" x2="280.50" y2="678.40" stroke="#222" stroke-width="0.6" />
<line x1="282.50" y1="676.50" x2="282.50" y2="678.40" stroke="#222" stroke-width="0.6" />
<line x1="284.50" y1="676.50" x2="284.50" y2="678.40" stroke="#222" stroke-width="0.6" />
<line x1="285.50" y1="676.50" x2="285.50" y2="678.40" stroke="#222" stroke-width="0.6" />
<line x1="286.50" y1="676.50" x2="286.50" y2="678.40" stroke="#222" stroke-width="0.6" />
<line x1="287.50" y1="676.50" x2="287.50" y2="678.40" stroke="#222" stroke-width="0.6" />
<line x1="288.50" y1="676.50" x2="288.50" y2="678.40" stroke="#222" stroke-width="0.6" />
<text x="281.84" y="627.50" font-size="7.6" text-anchor="start" fill="#d0203a" font-weight="normal" stroke="#d0203a" stroke-width="0.16"  textLength="13.01" lengthAdjust="spacingAndGlyphs">376</text>
<text x="277.84" y="643.50" font-size="7.6" text-anchor="start" fill="#1f5a9a" font-weight="normal" stroke="#1f5a9a" stroke-width="0.16"  textLength="17.01" lengthAdjust="spacingAndGlyphs">2551</text>
<text x="277.84" y="658.30" font-size="7.6" text-anchor="start" fill="#3cba4a" font-weight="normal" stroke="#3cba4a" stroke-width="0.16"  textLength="17.01" lengthAdjust="spacingAndGlyphs">1096</text>
<text x="281.84" y="674.70" font-size="7.6" text-anchor="start" fill="#5b2a7a" font-weight="normal" stroke="#5b2a7a" stroke-width="0.16"  textLength="13.01" lengthAdjust="spacingAndGlyphs">746</text>
<text x="198.74" y="628.10" font-size="7.6" text-anchor="start" fill="#231f20" font-weight="normal" stroke="#231f20" stroke-width="0.16"  textLength="15.71" lengthAdjust="spacingAndGlyphs">VEH</text>
<text x="202.74" y="644.10" font-size="7.6" text-anchor="start" fill="#231f20" font-weight="normal" stroke="#231f20" stroke-width="0.16"  textLength="11.71" lengthAdjust="spacingAndGlyphs">dG</text>
<text x="187.04" y="659.50" font-size="7.6" text-anchor="start" fill="#231f20" font-weight="normal" stroke="#231f20" stroke-width="0.16"  textLength="27.41" lengthAdjust="spacingAndGlyphs">dG+dA</text>
<text x="187.04" y="674.20" font-size="7.6" text-anchor="start" fill="#231f20" font-weight="normal" stroke="#231f20" stroke-width="0.16"  textLength="27.41" lengthAdjust="spacingAndGlyphs">dG+dC</text>
<text x="218.23" y="689.00" font-size="7.8" text-anchor="start" fill="#231f20" font-weight="normal" stroke="#231f20" stroke-width="0.16"  textLength="25.14" lengthAdjust="spacingAndGlyphs">CD11b</text>
<line x1="248.90" y1="686.50" x2="290.50" y2="686.50" stroke="#000" stroke-width="1.1" />
<polygon points="295,686.5 289.2,684.0 289.2,689.0" fill="#000"/>
<text x="371.97" y="595.20" font-size="8.8" text-anchor="start" fill="#231f20" font-weight="normal" stroke="#231f20" stroke-width="0.16"  textLength="31.76" lengthAdjust="spacingAndGlyphs">AML#6</text>
<polyline points="348.80,675.60 357.30,675.30 361.00,674.30 363.50,672.50 365.00,670.20 367.00,664.00 368.80,653.50 370.50,640.00 371.70,628.50 373.00,618.00 374.00,612.50 375.00,610.80 376.00,612.50 377.00,617.00 378.00,622.00 379.40,625.60 380.50,624.50 381.50,625.20 382.30,626.50 384.00,633.00 386.20,642.00 388.00,650.00 390.00,659.20 392.00,666.00 393.80,670.80 397.00,673.50 399.60,674.60 405.00,675.30 427.50,675.60" fill="none" stroke="#d0203a" stroke-width="1.3" stroke-linejoin="round" />
<polyline points="348.50,671.00 349.30,675.50 360.00,675.60 366.00,675.20 369.00,674.60 372.00,672.50 374.60,668.50 376.50,660.50 378.50,648.00 380.00,636.00 381.30,624.60 382.80,616.00 384.20,611.20 385.30,607.80 385.80,607.30 386.80,612.00 388.00,619.00 389.50,624.00 390.30,626.00 391.00,632.00 392.50,643.00 393.80,652.00 395.50,660.00 397.70,666.00 400.00,670.50 402.00,672.80 405.00,673.30 408.00,672.40 411.00,671.90 413.00,672.40 415.00,673.60 417.00,674.60 418.80,675.60 427.50,675.60" fill="none" stroke="#1f5a9a" stroke-width="1.3" stroke-linejoin="round" />
<polyline points="348.5,676.2 348.5,598.6 427.9,598.6 427.9,676.2" fill="none" stroke="#111" stroke-width="1.0"/>
<line x1="348.00" y1="676.50" x2="428.40" y2="676.50" stroke="#111" stroke-width="1.1" />
<line x1="357.50" y1="676.00" x2="357.50" y2="678.60" stroke="#222" stroke-width="0.75" />
<line x1="351.50" y1="676.00" x2="351.50" y2="677.90" stroke="#222" stroke-width="0.6" />
<line x1="352.50" y1="676.00" x2="352.50" y2="677.90" stroke="#222" stroke-width="0.6" />
<line x1="353.50" y1="676.00" x2="353.50" y2="677.90" stroke="#222" stroke-width="0.6" />
<line x1="354.50" y1="676.00" x2="354.50" y2="677.90" stroke="#222" stroke-width="0.6" />
<line x1="355.50" y1="676.00" x2="355.50" y2="677.90" stroke="#222" stroke-width="0.6" />
<line x1="356.50" y1="676.00" x2="356.50" y2="677.90" stroke="#222" stroke-width="0.6" />
<line x1="373.50" y1="676.00" x2="373.50" y2="678.60" stroke="#222" stroke-width="0.75" />
<line x1="362.50" y1="676.00" x2="362.50" y2="677.90" stroke="#222" stroke-width="0.6" />
<line x1="364.50" y1="676.00" x2="364.50" y2="677.90" stroke="#222" stroke-width="0.6" />
<line x1="366.50" y1="676.00" x2="366.50" y2="677.90" stroke="#222" stroke-width="0.6" />
<line x1="368.50" y1="676.00" x2="368.50" y2="677.90" stroke="#222" stroke-width="0.6" />
<line x1="369.50" y1="676.00" x2="369.50" y2="677.90" stroke="#222" stroke-width="0.6" />
<line x1="370.50" y1="676.00" x2="370.50" y2="677.90" stroke="#222" stroke-width="0.6" />
<line x1="371.50" y1="676.00" x2="371.50" y2="677.90" stroke="#222" stroke-width="0.6" />
<line x1="372.50" y1="676.00" x2="372.50" y2="677.90" stroke="#222" stroke-width="0.6" />
<line x1="388.50" y1="676.00" x2="388.50" y2="678.60" stroke="#222" stroke-width="0.75" />
<line x1="377.50" y1="676.00" x2="377.50" y2="677.90" stroke="#222" stroke-width="0.6" />
<line x1="380.50" y1="676.00" x2="380.50" y2="677.90" stroke="#222" stroke-width="0.6" />
<line x1="382.50" y1="676.00" x2="382.50" y2="677.90" stroke="#222" stroke-width="0.6" />
<line x1="384.50" y1="676.00" x2="384.50" y2="677.90" stroke="#222" stroke-width="0.6" />
<line x1="385.50" y1="676.00" x2="385.50" y2="677.90" stroke="#222" stroke-width="0.6" />
<line x1="386.50" y1="676.00" x2="386.50" y2="677.90" stroke="#222" stroke-width="0.6" />
<line x1="387.50" y1="676.00" x2="387.50" y2="677.90" stroke="#222" stroke-width="0.6" />
<line x1="388.50" y1="676.00" x2="388.50" y2="677.90" stroke="#222" stroke-width="0.6" />
<line x1="404.50" y1="676.00" x2="404.50" y2="678.60" stroke="#222" stroke-width="0.75" />
<line x1="393.50" y1="676.00" x2="393.50" y2="677.90" stroke="#222" stroke-width="0.6" />
<line x1="396.50" y1="676.00" x2="396.50" y2="677.90" stroke="#222" stroke-width="0.6" />
<line x1="398.50" y1="676.00" x2="398.50" y2="677.90" stroke="#222" stroke-width="0.6" />
<line x1="399.50" y1="676.00" x2="399.50" y2="677.90" stroke="#222" stroke-width="0.6" />
<line x1="401.50" y1="676.00" x2="401.50" y2="677.90" stroke="#222" stroke-width="0.6" />
<line x1="402.50" y1="676.00" x2="402.50" y2="677.90" stroke="#222" stroke-width="0.6" />
<line x1="402.50" y1="676.00" x2="402.50" y2="677.90" stroke="#222" stroke-width="0.6" />
<line x1="403.50" y1="676.00" x2="403.50" y2="677.90" stroke="#222" stroke-width="0.6" />
<line x1="420.50" y1="676.00" x2="420.50" y2="678.60" stroke="#222" stroke-width="0.75" />
<line x1="409.50" y1="676.00" x2="409.50" y2="677.90" stroke="#222" stroke-width="0.6" />
<line x1="411.50" y1="676.00" x2="411.50" y2="677.90" stroke="#222" stroke-width="0.6" />
<line x1="413.50" y1="676.00" x2="413.50" y2="677.90" stroke="#222" stroke-width="0.6" />
<line x1="415.50" y1="676.00" x2="415.50" y2="677.90" stroke="#222" stroke-width="0.6" />
<line x1="416.50" y1="676.00" x2="416.50" y2="677.90" stroke="#222" stroke-width="0.6" />
<line x1="417.50" y1="676.00" x2="417.50" y2="677.90" stroke="#222" stroke-width="0.6" />
<line x1="418.50" y1="676.00" x2="418.50" y2="677.90" stroke="#222" stroke-width="0.6" />
<line x1="419.50" y1="676.00" x2="419.50" y2="677.90" stroke="#222" stroke-width="0.6" />
<line x1="353.00" y1="604.40" x2="361.50" y2="604.40" stroke="#d0203a" stroke-width="1.2" />
<text x="364.54" y="607.00" font-size="7.6" text-anchor="start" fill="#231f20" font-weight="normal" stroke="#231f20" stroke-width="0.16"  textLength="15.31" lengthAdjust="spacingAndGlyphs">VEH</text>
<line x1="398.70" y1="604.40" x2="407.30" y2="604.40" stroke="#1f5a9a" stroke-width="1.2" />
<text x="409.14" y="607.00" font-size="7.6" text-anchor="start" fill="#231f20" font-weight="normal" stroke="#231f20" stroke-width="0.16"  textLength="11.11" lengthAdjust="spacingAndGlyphs">dG</text>
<text x="351.04" y="618.70" font-size="7.6" text-anchor="start" fill="#d0203a" font-weight="normal" stroke="#d0203a" stroke-width="0.16"  textLength="13.41" lengthAdjust="spacingAndGlyphs">742</text>
<text x="409.14" y="618.70" font-size="7.6" text-anchor="start" fill="#1f5a9a" font-weight="normal" stroke="#1f5a9a" stroke-width="0.16"  textLength="16.91" lengthAdjust="spacingAndGlyphs">2634</text>
<text x="349.13" y="689.00" font-size="7.8" text-anchor="start" fill="#231f20" font-weight="normal" stroke="#231f20" stroke-width="0.16"  textLength="25.94" lengthAdjust="spacingAndGlyphs">CD11b</text>
<line x1="380.40" y1="686.50" x2="422.50" y2="686.50" stroke="#000" stroke-width="1.1" />
<polygon points="427,686.5 421.2,684.0 421.2,689.0" fill="#000"/>
<rect x="0" y="0" width="520" height="1" fill="#000"/><rect x="0" y="0" width="1" height="705" fill="#000"/>
<rect x="519" y="0" width="1" height="705" fill="#000"/><rect x="0" y="704" width="520" height="1" fill="#000"/>
<rect x="518.6" y="0" width="0.4" height="705" fill="#000" opacity="0.6"/><rect x="0" y="703.6" width="520" height="0.4" fill="#000" opacity="0.6"/>
</svg></body></html>
